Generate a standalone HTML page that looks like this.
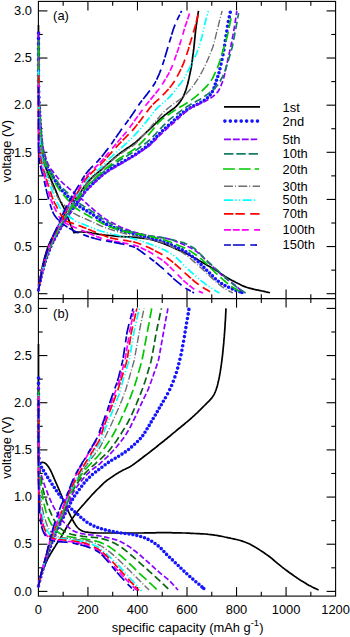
<!DOCTYPE html>
<html><head><meta charset="utf-8"><title>chart</title>
<style>html,body{margin:0;padding:0;background:#fff;overflow:hidden}body{width:350px;height:637px}</style></head>
<body>
<svg width="350" height="637" viewBox="0 0 350 637" style="display:block">
<rect width="350" height="637" fill="#fff"/>
<g stroke="#000" stroke-width="1.1" fill="none" shape-rendering="auto">
<rect x="38.4" y="1.4" width="297.20000000000005" height="594.7"/>
<line x1="38.4" y1="298.6" x2="335.6" y2="298.6"/>
<line x1="63.17" y1="1.4" x2="63.17" y2="5.699999999999999"/>
<line x1="63.17" y1="294.3" x2="63.17" y2="302.90000000000003"/>
<line x1="63.17" y1="596.1" x2="63.17" y2="591.8000000000001"/>
<line x1="87.93" y1="1.4" x2="87.93" y2="10.4"/>
<line x1="87.93" y1="289.6" x2="87.93" y2="307.6"/>
<line x1="87.93" y1="596.1" x2="87.93" y2="587.1"/>
<line x1="112.70" y1="1.4" x2="112.70" y2="5.699999999999999"/>
<line x1="112.70" y1="294.3" x2="112.70" y2="302.90000000000003"/>
<line x1="112.70" y1="596.1" x2="112.70" y2="591.8000000000001"/>
<line x1="137.47" y1="1.4" x2="137.47" y2="10.4"/>
<line x1="137.47" y1="289.6" x2="137.47" y2="307.6"/>
<line x1="137.47" y1="596.1" x2="137.47" y2="587.1"/>
<line x1="162.23" y1="1.4" x2="162.23" y2="5.699999999999999"/>
<line x1="162.23" y1="294.3" x2="162.23" y2="302.90000000000003"/>
<line x1="162.23" y1="596.1" x2="162.23" y2="591.8000000000001"/>
<line x1="187.00" y1="1.4" x2="187.00" y2="10.4"/>
<line x1="187.00" y1="289.6" x2="187.00" y2="307.6"/>
<line x1="187.00" y1="596.1" x2="187.00" y2="587.1"/>
<line x1="211.77" y1="1.4" x2="211.77" y2="5.699999999999999"/>
<line x1="211.77" y1="294.3" x2="211.77" y2="302.90000000000003"/>
<line x1="211.77" y1="596.1" x2="211.77" y2="591.8000000000001"/>
<line x1="236.53" y1="1.4" x2="236.53" y2="10.4"/>
<line x1="236.53" y1="289.6" x2="236.53" y2="307.6"/>
<line x1="236.53" y1="596.1" x2="236.53" y2="587.1"/>
<line x1="261.30" y1="1.4" x2="261.30" y2="5.699999999999999"/>
<line x1="261.30" y1="294.3" x2="261.30" y2="302.90000000000003"/>
<line x1="261.30" y1="596.1" x2="261.30" y2="591.8000000000001"/>
<line x1="286.07" y1="1.4" x2="286.07" y2="10.4"/>
<line x1="286.07" y1="289.6" x2="286.07" y2="307.6"/>
<line x1="286.07" y1="596.1" x2="286.07" y2="587.1"/>
<line x1="310.83" y1="1.4" x2="310.83" y2="5.699999999999999"/>
<line x1="310.83" y1="294.3" x2="310.83" y2="302.90000000000003"/>
<line x1="310.83" y1="596.1" x2="310.83" y2="591.8000000000001"/>
<line x1="38.4" y1="293.70" x2="47.4" y2="293.70"/>
<line x1="335.6" y1="293.70" x2="326.6" y2="293.70"/>
<line x1="38.4" y1="591.40" x2="47.4" y2="591.40"/>
<line x1="335.6" y1="591.40" x2="326.6" y2="591.40"/>
<line x1="38.4" y1="270.13" x2="42.699999999999996" y2="270.13"/>
<line x1="335.6" y1="270.13" x2="331.3" y2="270.13"/>
<line x1="38.4" y1="567.82" x2="42.699999999999996" y2="567.82"/>
<line x1="335.6" y1="567.82" x2="331.3" y2="567.82"/>
<line x1="38.4" y1="246.57" x2="47.4" y2="246.57"/>
<line x1="335.6" y1="246.57" x2="326.6" y2="246.57"/>
<line x1="38.4" y1="544.23" x2="47.4" y2="544.23"/>
<line x1="335.6" y1="544.23" x2="326.6" y2="544.23"/>
<line x1="38.4" y1="223.00" x2="42.699999999999996" y2="223.00"/>
<line x1="335.6" y1="223.00" x2="331.3" y2="223.00"/>
<line x1="38.4" y1="520.65" x2="42.699999999999996" y2="520.65"/>
<line x1="335.6" y1="520.65" x2="331.3" y2="520.65"/>
<line x1="38.4" y1="199.43" x2="47.4" y2="199.43"/>
<line x1="335.6" y1="199.43" x2="326.6" y2="199.43"/>
<line x1="38.4" y1="497.07" x2="47.4" y2="497.07"/>
<line x1="335.6" y1="497.07" x2="326.6" y2="497.07"/>
<line x1="38.4" y1="175.87" x2="42.699999999999996" y2="175.87"/>
<line x1="335.6" y1="175.87" x2="331.3" y2="175.87"/>
<line x1="38.4" y1="473.48" x2="42.699999999999996" y2="473.48"/>
<line x1="335.6" y1="473.48" x2="331.3" y2="473.48"/>
<line x1="38.4" y1="152.30" x2="47.4" y2="152.30"/>
<line x1="335.6" y1="152.30" x2="326.6" y2="152.30"/>
<line x1="38.4" y1="449.90" x2="47.4" y2="449.90"/>
<line x1="335.6" y1="449.90" x2="326.6" y2="449.90"/>
<line x1="38.4" y1="128.73" x2="42.699999999999996" y2="128.73"/>
<line x1="335.6" y1="128.73" x2="331.3" y2="128.73"/>
<line x1="38.4" y1="426.32" x2="42.699999999999996" y2="426.32"/>
<line x1="335.6" y1="426.32" x2="331.3" y2="426.32"/>
<line x1="38.4" y1="105.17" x2="47.4" y2="105.17"/>
<line x1="335.6" y1="105.17" x2="326.6" y2="105.17"/>
<line x1="38.4" y1="402.73" x2="47.4" y2="402.73"/>
<line x1="335.6" y1="402.73" x2="326.6" y2="402.73"/>
<line x1="38.4" y1="81.60" x2="42.699999999999996" y2="81.60"/>
<line x1="335.6" y1="81.60" x2="331.3" y2="81.60"/>
<line x1="38.4" y1="379.15" x2="42.699999999999996" y2="379.15"/>
<line x1="335.6" y1="379.15" x2="331.3" y2="379.15"/>
<line x1="38.4" y1="58.03" x2="47.4" y2="58.03"/>
<line x1="335.6" y1="58.03" x2="326.6" y2="58.03"/>
<line x1="38.4" y1="355.57" x2="47.4" y2="355.57"/>
<line x1="335.6" y1="355.57" x2="326.6" y2="355.57"/>
<line x1="38.4" y1="34.47" x2="42.699999999999996" y2="34.47"/>
<line x1="335.6" y1="34.47" x2="331.3" y2="34.47"/>
<line x1="38.4" y1="331.98" x2="42.699999999999996" y2="331.98"/>
<line x1="335.6" y1="331.98" x2="331.3" y2="331.98"/>
<line x1="38.4" y1="10.90" x2="47.4" y2="10.90"/>
<line x1="335.6" y1="10.90" x2="326.6" y2="10.90"/>
<line x1="38.4" y1="308.40" x2="47.4" y2="308.40"/>
<line x1="335.6" y1="308.40" x2="326.6" y2="308.40"/>
</g>
<path d="M38.5 25.0L38.5 27.0L38.5 29.0L38.5 31.0L38.5 33.0L38.5 35.0L38.5 37.0L38.6 39.0L38.6 41.0L38.6 43.0L38.6 45.0L38.6 47.0L38.6 49.0L38.6 51.0L38.6 53.0L38.6 55.0L38.6 57.0L38.6 59.0L38.6 61.0L38.7 63.0L38.7 65.0L38.7 67.0L38.7 69.0L38.7 71.0L38.7 73.0L38.7 75.1L38.7 77.1L38.7 79.1L38.7 81.1L38.7 83.1L38.7 85.1L38.7 87.1L38.8 89.1L38.8 91.1L38.8 93.1L38.8 95.1L38.8 97.1L38.8 99.1L38.8 101.1L38.9 103.1L38.9 105.1L39.0 107.1L39.0 109.1L39.1 111.1L39.1 113.1L39.2 115.1L39.2 117.1L39.2 119.1L39.3 121.1L39.3 123.1L39.4 125.1L39.4 127.1L39.5 129.1L39.6 131.1L39.8 133.1L40.0 135.1L40.1 137.1L40.3 139.1L40.5 141.1L40.7 143.1L40.9 145.1L41.1 147.0L41.3 149.0L41.6 151.0L42.0 153.0L42.4 154.9L42.9 156.9L43.3 158.8L43.8 160.8L44.3 162.7L44.8 164.6L45.4 166.5L46.1 168.4L46.9 170.2L47.7 172.1L48.5 173.9L49.3 175.7L50.1 177.6L50.9 179.4L51.7 181.2L52.5 183.1L53.3 184.9L54.2 186.7L54.9 188.6L55.7 190.4L56.5 192.3L57.2 194.1L58.0 196.0L58.7 197.8L59.6 199.6L60.4 201.4L61.4 203.2L62.3 205.0L63.3 206.7L64.1 208.5L64.9 210.4L65.7 212.2L66.5 214.1L67.2 215.9L68.0 217.8L68.7 219.6L69.4 221.5L70.1 223.4L70.8 225.3L71.6 227.1L72.4 229.0L73.2 230.8L74.0 232.6L76.0 232.4L78.0 232.2L80.0 232.0L82.0 232.0L84.0 232.1L86.0 232.2L88.0 232.4L90.0 232.6L92.0 233.0L93.9 233.3L95.9 233.7L97.9 234.1L99.8 234.5L101.8 234.7L103.8 235.0L105.8 235.2L107.8 235.3L109.8 235.5L111.8 235.7L113.8 235.9L115.8 236.1L117.8 236.3L119.8 236.4L121.8 236.6L123.8 236.7L125.9 236.8L127.9 236.9L129.9 237.0L131.9 237.1L133.9 237.3L135.9 237.4L137.9 237.6L139.9 237.9L141.9 238.1L143.9 238.3L145.9 238.5L147.8 238.8L149.8 239.2L151.8 239.7L153.7 240.2L155.6 240.9L157.5 241.5L159.4 242.1L161.3 242.8L163.2 243.4L165.1 244.1L166.9 244.9L168.8 245.7L170.6 246.5L172.4 247.3L174.3 248.2L176.1 249.0L177.9 249.8L179.8 250.6L181.6 251.5L183.4 252.3L185.2 253.2L187.1 254.0L188.9 254.9L190.6 255.8L192.4 256.7L194.2 257.7L196.0 258.6L197.7 259.6L199.4 260.7L201.2 261.7L202.9 262.7L204.6 263.7L206.4 264.7L208.1 265.7L209.9 266.7L211.6 267.7L213.4 268.7L215.1 269.7L216.8 270.8L218.4 271.9L220.1 273.1L221.7 274.2L223.4 275.3L225.1 276.4L226.8 277.5L228.6 278.5L230.3 279.4L232.1 280.4L233.8 281.3L235.6 282.3L237.4 283.2L239.2 284.1L241.0 285.0L242.8 285.9L244.7 286.6L246.5 287.3L248.5 287.9L250.4 288.4L252.3 288.9L254.3 289.4L256.3 289.8L258.2 290.2L260.2 290.6L262.2 291.0L264.1 291.4L266.1 291.9L268.0 292.3L270.0 292.8" fill="none" stroke="#000000" stroke-width="1.7" stroke-linejoin="round"/>
<path d="M38.5 290.0L38.8 288.0L39.1 286.0L39.4 284.1L39.7 282.1L40.0 280.1L40.3 278.1L40.6 276.1L41.0 274.2L41.3 272.2L41.7 270.2L42.1 268.2L42.5 266.3L42.9 264.3L43.4 262.4L43.8 260.4L44.3 258.5L44.9 256.6L45.5 254.6L46.0 252.7L46.6 250.8L47.3 248.9L48.0 247.0L48.7 245.2L49.5 243.3L50.4 241.5L51.2 239.7L52.1 237.9L53.0 236.1L53.9 234.3L54.8 232.5L55.8 230.8L56.7 229.0L57.6 227.2L58.5 225.4L59.5 223.7L60.4 221.9L61.4 220.2L62.4 218.4L63.5 216.7L64.5 215.0L65.6 213.3L66.7 211.6L67.8 210.0L68.9 208.3L70.0 206.6L71.1 204.9L72.2 203.3L73.4 201.6L74.6 200.0L75.8 198.4L77.0 196.8L78.2 195.3L79.5 193.7L80.6 192.0L81.8 190.4L82.9 188.7L84.0 187.1L85.2 185.5L86.4 183.9L87.7 182.3L89.0 180.8L90.4 179.4L91.7 177.9L93.2 176.5L94.7 175.2L96.3 174.0L97.8 172.7L99.4 171.4L100.9 170.1L102.4 168.8L103.8 167.4L105.3 166.0L106.7 164.6L108.2 163.3L109.7 161.9L111.2 160.6L112.7 159.3L114.2 157.9L115.7 156.7L117.2 155.4L118.8 154.1L120.4 152.9L122.0 151.7L123.7 150.6L125.3 149.5L127.0 148.3L128.7 147.2L130.3 146.1L132.0 145.0L133.6 143.8L135.2 142.6L136.7 141.3L138.2 140.0L139.7 138.6L141.1 137.2L142.6 135.9L144.1 134.5L145.5 133.1L147.0 131.7L148.4 130.4L149.9 129.0L151.3 127.6L152.8 126.2L154.2 124.8L155.6 123.4L157.1 122.0L158.5 120.6L160.0 119.2L161.5 117.9L163.0 116.6L164.5 115.3L166.1 114.1L167.7 112.8L169.3 111.7L170.9 110.5L172.6 109.3L174.2 108.1L175.7 106.8L177.1 105.4L178.4 103.9L179.6 102.4L180.8 100.8L181.9 99.1L182.9 97.4L183.7 95.6L184.5 93.7L185.2 91.9L185.9 90.0L186.5 88.1L187.0 86.1L187.6 84.2L188.1 82.3L188.5 80.3L189.0 78.4L189.4 76.4L189.8 74.4L190.2 72.5L190.6 70.5L191.0 68.5L191.4 66.6L191.7 64.6L192.0 62.6L192.2 60.6L192.5 58.6L192.7 56.6L193.0 54.7L193.3 52.7L193.5 50.7L193.8 48.7L194.0 46.7L194.2 44.7L194.4 42.7L194.6 40.7L194.8 38.7L195.0 36.7L195.2 34.7L195.4 32.7L195.6 30.7L195.9 28.7L196.1 26.8L196.4 24.8L196.7 22.8L197.0 20.8L197.3 18.8L197.6 16.8L197.9 14.9L198.2 12.9L198.5 10.9" fill="none" stroke="#000000" stroke-width="1.7" stroke-linejoin="round"/>
<path d="M38.5 33.0h0M38.5 38.4h0M38.5 43.7h0M38.5 49.1h0M38.5 54.4h0M38.5 59.8h0M38.5 65.1h0M38.5 70.5h0M38.5 75.8h0M38.5 81.1h0M38.6 86.5h0M38.7 91.8h0M38.9 97.2h0M39.1 102.5h0M39.4 107.9h0M39.6 111.9h0M39.8 115.9h0M40.0 119.9h0M40.2 123.9h0M40.4 127.9h0M40.7 131.8h0M41.0 135.8h0M41.4 139.8h0M41.7 143.8h0M42.2 147.8h0M42.8 151.7h0M43.8 155.6h0M44.8 159.5h0M45.9 163.3h0M47.4 167.0h0M49.2 170.6h0M51.3 174.0h0M53.3 177.4h0M55.4 180.9h0M57.5 184.3h0M59.7 187.6h0M62.2 190.7h0M65.0 193.6h0M67.8 196.4h0M70.7 199.2h0M73.6 202.0h0M76.7 204.5h0M79.9 206.8h0M83.3 208.9h0M86.8 210.9h0M90.2 213.0h0M93.6 215.1h0M96.8 217.5h0M100.0 219.9h0M103.2 222.3h0M106.6 224.4h0M110.3 226.1h0M114.0 227.6h0M117.7 229.0h0M121.5 230.3h0M125.3 231.4h0M129.2 232.4h0M133.1 233.5h0M136.9 234.5h0M140.8 235.5h0M144.6 236.6h0M148.5 237.6h0M152.4 238.6h0M156.2 239.7h0M160.1 240.7h0M163.9 241.8h0M167.7 243.3h0M171.3 244.9h0M175.0 246.5h0M178.6 248.1h0M182.3 249.8h0M185.8 251.8h0M189.0 254.1h0M192.2 256.5h0M195.3 259.0h0M198.2 261.8h0M201.1 264.6h0M203.9 267.4h0M206.7 270.2h0M209.6 273.1h0M212.4 275.9h0M215.3 278.7h0M218.3 281.3h0M221.6 283.6h0M225.0 285.6h0M228.6 287.3h0M232.3 288.9h0M236.0 290.4h0M239.8 291.7h0M242.0 292.4h0" fill="none" stroke="#1414ff" stroke-width="3.6" stroke-linecap="round"/>
<path d="M38.5 290.0h0M39.5 284.7h0M40.3 280.8h0M41.1 276.9h0M42.0 273.0h0M43.1 269.2h0M44.2 265.3h0M45.3 261.5h0M46.6 257.7h0M47.9 253.9h0M49.3 250.2h0M50.8 246.5h0M52.5 242.8h0M54.4 239.3h0M56.2 235.7h0M58.1 232.2h0M60.1 228.7h0M62.0 225.2h0M64.0 221.8h0M66.1 218.4h0M68.3 215.0h0M70.5 211.7h0M72.8 208.4h0M75.2 205.2h0M77.5 202.0h0M80.0 198.8h0M82.3 195.5h0M84.6 192.3h0M87.2 189.2h0M90.0 186.3h0M92.8 183.6h0M95.8 180.8h0M98.7 178.1h0M101.7 175.5h0M104.8 173.0h0M108.0 170.6h0M111.4 168.4h0M114.8 166.4h0M118.3 164.4h0M121.8 162.5h0M125.3 160.5h0M128.8 158.5h0M132.2 156.5h0M135.6 154.4h0M138.9 152.1h0M142.1 149.8h0M145.4 147.4h0M148.5 144.9h0M151.5 142.2h0M154.2 139.3h0M156.9 136.4h0M159.7 133.5h0M162.6 130.7h0M165.5 128.0h0M168.5 125.4h0M171.5 122.7h0M174.4 120.0h0M177.4 117.3h0M180.5 114.8h0M183.6 112.3h0M186.8 109.9h0M190.2 107.7h0M193.7 105.9h0M197.3 104.2h0M200.9 102.3h0M204.3 100.2h0M207.5 97.8h0M210.2 94.9h0M212.4 91.6h0M214.1 87.9h0M215.3 84.1h0M216.5 80.3h0M217.8 76.5h0M219.0 72.7h0M220.0 68.8h0M221.0 64.1h0M222.0 59.5h0M223.0 54.8h0M223.9 50.0h0M224.6 45.3h0M225.3 40.6h0M226.0 35.8h0M226.8 31.1h0M227.5 26.3h0M228.3 21.6h0M229.3 16.9h0M230.3 12.2h0" fill="none" stroke="#1414ff" stroke-width="3.6" stroke-linecap="round"/>
<path d="M38.5 32.5L38.5 34.5L38.5 36.5L38.5 38.5L38.5 40.5L38.5 42.5L38.5 44.5L38.5 46.5L38.5 48.5L38.5 50.5L38.5 52.5L38.5 54.5L38.5 56.5L38.5 58.5L38.5 60.5L38.5 62.5L38.5 64.5L38.5 66.5L38.5 68.5L38.5 70.5L38.5 72.5L38.5 74.5L38.5 76.5L38.5 78.5L38.5 80.5L38.6 82.5L38.6 84.5L38.7 86.5L38.8 88.5L38.8 90.5L38.9 92.5L39.0 94.5L39.0 96.5L39.1 98.5L39.2 100.5L39.2 102.5L39.3 104.5L39.4 106.5L39.5 108.5L39.7 110.5L39.8 112.5L39.9 114.5L40.1 116.5L40.2 118.5L40.4 120.5L40.5 122.5L40.6 124.5L40.8 126.5L40.9 128.5L41.1 130.5L41.3 132.5L41.5 134.5L41.7 136.4L42.0 138.4L42.2 140.4L42.4 142.4L42.7 144.4L42.9 146.4L43.2 148.3L43.6 150.3L44.1 152.2L44.7 154.1L45.3 156.1L45.9 158.0L46.5 159.9L47.2 161.7L47.8 163.6L48.7 165.4L49.6 167.1L50.7 168.8L51.9 170.4L53.2 171.9L54.4 173.5L55.6 175.1L56.9 176.7L58.1 178.2L59.4 179.7L60.8 181.2L62.2 182.5L63.7 183.9L65.2 185.2L66.8 186.5L68.3 187.8L69.8 189.1L71.3 190.4L72.9 191.7L74.4 193.0L75.9 194.2L77.5 195.5L79.0 196.7L80.6 198.0L82.1 199.3L83.6 200.7L85.0 202.0L86.5 203.4L88.0 204.8L89.5 206.1L91.0 207.4L92.5 208.7L94.0 210.0L95.6 211.3L97.1 212.6L98.6 213.8L100.2 215.1L101.7 216.4L103.3 217.6L105.0 218.7L106.7 219.7L108.4 220.7L110.2 221.6L111.9 222.5L113.7 223.5L115.5 224.4L117.2 225.4L119.0 226.3L120.8 227.2L122.6 227.9L124.5 228.6L126.4 229.3L128.3 230.0L130.1 230.7L132.0 231.4L133.9 232.0L135.8 232.6L137.8 233.1L139.7 233.6L141.7 234.1L143.6 234.5L145.5 235.0L147.5 235.4L149.5 235.8L151.4 236.2L153.4 236.5L155.4 236.8L157.4 237.1L159.3 237.4L161.3 237.7L163.3 238.0L165.3 238.3L167.2 238.7L169.2 239.1L171.1 239.6L173.0 240.2L174.8 240.9L176.7 241.7L178.6 242.4L180.4 243.2L182.3 243.9L184.1 244.7L185.9 245.5L187.7 246.4L189.5 247.3L191.3 248.2L193.1 249.2L194.7 250.2L196.3 251.4L197.9 252.6L199.4 254.0L200.9 255.3L202.4 256.6L203.8 258.0L205.3 259.4L206.7 260.7L208.1 262.2L209.6 263.6L211.0 265.0L212.4 266.4L213.8 267.8L215.3 269.2L216.7 270.5L218.2 271.9L219.7 273.2L221.2 274.6L222.7 275.9L224.2 277.2L225.8 278.4L227.4 279.6L229.0 280.8L230.6 281.9L232.3 283.1L233.9 284.3L235.4 285.5L236.9 286.8L238.4 288.2L239.9 289.5L241.4 290.9L242.9 292.2L243.6 292.9" fill="none" stroke="#8a00ff" stroke-width="1.7" stroke-dasharray="5.60 2.50" stroke-linejoin="round"/>
<path d="M38.5 290.0L38.9 288.0L39.3 286.1L39.7 284.1L40.0 282.1L40.4 280.2L40.8 278.2L41.3 276.3L41.8 274.3L42.3 272.4L42.9 270.5L43.4 268.6L44.0 266.6L44.5 264.7L45.1 262.8L45.7 260.9L46.3 259.0L47.0 257.1L47.7 255.2L48.4 253.4L49.1 251.5L49.8 249.6L50.5 247.8L51.4 246.0L52.2 244.2L53.2 242.4L54.1 240.6L55.0 238.8L56.0 237.1L56.9 235.3L57.9 233.6L58.9 231.8L59.9 230.1L60.8 228.3L61.9 226.6L62.9 224.9L63.9 223.2L65.0 221.5L66.0 219.8L67.1 218.1L68.2 216.4L69.3 214.8L70.4 213.1L71.6 211.5L72.7 209.8L73.9 208.2L75.0 206.6L76.2 205.0L77.4 203.3L78.6 201.7L79.8 200.2L81.0 198.5L82.1 196.9L83.2 195.3L84.3 193.6L85.4 192.0L86.7 190.5L88.0 189.0L89.5 187.7L90.9 186.3L92.4 184.9L93.8 183.5L95.2 182.1L96.7 180.7L98.1 179.3L99.6 178.0L101.1 176.7L102.6 175.4L104.2 174.2L105.8 173.0L107.5 171.9L109.1 170.7L110.8 169.7L112.5 168.7L114.3 167.7L116.0 166.7L117.8 165.7L119.5 164.7L121.2 163.7L122.9 162.7L124.7 161.7L126.4 160.7L128.1 159.6L129.8 158.6L131.5 157.6L133.2 156.5L134.9 155.5L136.6 154.4L138.3 153.3L140.0 152.2L141.6 151.1L143.3 150.0L144.9 148.9L146.6 147.7L148.2 146.6L149.8 145.3L151.3 144.0L152.7 142.6L154.1 141.2L155.5 139.8L156.9 138.3L158.2 136.9L159.7 135.5L161.1 134.1L162.6 132.7L164.0 131.4L165.5 130.0L167.0 128.7L168.5 127.3L170.0 126.0L171.5 124.7L173.0 123.3L174.5 122.0L175.9 120.7L177.4 119.3L178.9 118.0L180.4 116.6L181.9 115.3L183.4 114.0L184.9 112.6L186.4 111.3L187.9 110.0L189.5 108.8L191.1 107.8L192.9 106.8L194.7 106.0L196.5 105.2L198.4 104.4L200.2 103.6L202.0 102.8L203.8 101.9L205.6 101.0L207.4 100.1L209.1 99.1L210.8 98.0L212.4 96.9L213.9 95.6L215.4 94.3L216.8 92.9L218.1 91.4L219.1 89.8L220.0 88.0L220.8 86.2L221.5 84.3L222.2 82.5L222.9 80.6L223.5 78.7L224.0 76.7L224.5 74.8L224.9 72.9L225.4 70.9L225.8 68.9L226.2 67.0L226.6 65.0L227.1 63.1L227.5 61.1L227.9 59.2L228.4 57.2L228.8 55.3L229.2 53.3L229.7 51.4L230.1 49.4L230.5 47.5L231.0 45.5L231.4 43.5L231.8 41.6L232.1 39.6L232.5 37.6L232.9 35.7L233.2 33.7L233.6 31.7L233.9 29.8L234.3 27.8L234.6 25.8L234.9 23.9L235.2 21.9L235.5 19.9L235.8 17.9L236.1 15.9L236.4 14.0L236.7 12.0L236.9 11.0" fill="none" stroke="#8a00ff" stroke-width="1.7" stroke-dasharray="5.60 2.50" stroke-linejoin="round"/>
<path d="M38.5 40.0L38.5 42.0L38.5 44.0L38.5 46.0L38.5 48.0L38.5 50.0L38.5 52.0L38.5 54.0L38.5 56.0L38.5 58.0L38.5 60.0L38.5 62.0L38.5 64.0L38.5 66.0L38.5 68.0L38.5 70.0L38.5 72.0L38.5 74.0L38.5 76.0L38.5 78.0L38.5 80.0L38.5 82.0L38.5 84.0L38.6 86.0L38.6 88.0L38.7 90.0L38.7 92.0L38.8 94.0L38.9 96.0L39.0 98.0L39.0 100.0L39.1 102.0L39.2 104.0L39.3 106.0L39.4 108.0L39.5 110.0L39.6 112.0L39.7 114.0L39.9 116.0L40.0 118.0L40.1 120.0L40.2 122.0L40.3 124.0L40.5 126.0L40.6 128.0L40.8 130.0L40.9 132.0L41.1 134.0L41.3 136.0L41.5 137.9L41.7 139.9L42.0 141.9L42.2 143.9L42.4 145.9L42.6 147.9L43.0 149.9L43.3 151.8L43.8 153.8L44.3 155.7L44.8 157.6L45.3 159.6L45.8 161.5L46.4 163.4L47.1 165.2L47.9 167.0L48.9 168.8L50.0 170.5L51.1 172.1L52.2 173.8L53.3 175.5L54.4 177.1L55.5 178.8L56.6 180.5L57.7 182.1L58.8 183.8L60.1 185.3L61.4 186.8L62.7 188.3L64.2 189.7L65.6 191.1L67.1 192.4L68.5 193.8L70.0 195.2L71.4 196.6L72.9 197.9L74.4 199.3L75.9 200.6L77.4 201.8L79.0 203.1L80.6 204.2L82.3 205.3L84.0 206.4L85.7 207.4L87.5 208.4L89.2 209.4L90.8 210.5L92.5 211.6L94.1 212.8L95.7 214.0L97.4 215.1L99.0 216.3L100.6 217.4L102.3 218.5L104.0 219.6L105.6 220.7L107.3 221.8L109.0 222.8L110.8 223.8L112.5 224.7L114.3 225.7L116.1 226.5L117.9 227.4L119.8 228.2L121.6 228.9L123.5 229.5L125.4 230.1L127.3 230.7L129.2 231.3L131.2 231.8L133.1 232.4L135.0 232.9L137.0 233.4L138.9 233.8L140.9 234.2L142.8 234.6L144.8 235.0L146.8 235.3L148.7 235.7L150.7 236.0L152.7 236.3L154.7 236.6L156.6 236.9L158.6 237.2L160.6 237.4L162.6 237.7L164.6 238.1L166.5 238.4L168.5 238.9L170.4 239.4L172.4 239.8L174.3 240.3L176.2 240.8L178.2 241.3L180.1 241.8L182.0 242.3L183.9 242.9L185.8 243.7L187.6 244.5L189.4 245.4L191.1 246.4L192.8 247.4L194.4 248.5L196.0 249.8L197.4 251.1L198.8 252.5L200.2 254.0L201.6 255.4L203.0 256.9L204.4 258.3L205.8 259.7L207.3 261.0L208.8 262.4L210.3 263.7L211.7 265.1L213.2 266.4L214.7 267.7L216.2 269.1L217.7 270.4L219.2 271.8L220.7 273.1L222.1 274.5L223.6 275.8L225.1 277.1L226.6 278.5L228.1 279.8L229.6 281.2L231.1 282.5L232.6 283.8L234.1 285.0L235.7 286.3L237.3 287.5L238.9 288.6L240.6 289.8L242.3 290.8L244.0 291.9L245.7 292.9" fill="none" stroke="#147d64" stroke-width="1.7" stroke-dasharray="7.50 3.50" stroke-linejoin="round"/>
<path d="M38.5 290.0L38.9 288.0L39.2 286.1L39.6 284.1L40.0 282.1L40.4 280.2L40.8 278.2L41.2 276.2L41.6 274.3L42.1 272.3L42.6 270.4L43.2 268.5L43.7 266.5L44.2 264.6L44.8 262.7L45.4 260.8L46.0 258.9L46.6 257.0L47.3 255.1L47.9 253.2L48.6 251.3L49.3 249.4L50.0 247.5L50.8 245.7L51.7 243.9L52.5 242.1L53.4 240.3L54.3 238.5L55.2 236.7L56.1 234.9L57.0 233.1L58.0 231.4L58.9 229.6L59.8 227.8L60.8 226.0L61.7 224.3L62.7 222.5L63.7 220.8L64.8 219.1L65.8 217.4L66.9 215.7L68.0 214.0L69.1 212.3L70.2 210.7L71.3 209.0L72.4 207.3L73.6 205.7L74.7 204.1L75.9 202.4L77.1 200.8L78.3 199.2L79.5 197.6L80.7 196.0L81.8 194.4L82.9 192.7L83.9 191.0L85.0 189.3L86.2 187.7L87.5 186.3L88.9 184.8L90.3 183.5L91.8 182.1L93.3 180.7L94.7 179.4L96.2 178.1L97.7 176.7L99.3 175.4L100.8 174.1L102.3 172.8L103.9 171.5L105.4 170.3L107.0 169.0L108.5 167.8L110.1 166.6L111.8 165.4L113.4 164.3L115.1 163.2L116.8 162.1L118.5 161.0L120.2 159.9L121.9 158.9L123.6 157.9L125.3 156.8L127.0 155.8L128.7 154.8L130.5 153.7L132.2 152.7L133.9 151.6L135.5 150.5L137.2 149.4L138.8 148.2L140.4 147.0L142.0 145.8L143.7 144.7L145.3 143.5L146.9 142.3L148.4 141.0L149.9 139.7L151.4 138.3L152.8 136.9L154.1 135.4L155.5 134.0L156.8 132.5L158.2 131.0L159.6 129.5L161.0 128.1L162.4 126.7L163.8 125.2L165.2 123.8L166.6 122.4L168.0 121.0L169.5 119.7L171.0 118.4L172.6 117.1L174.2 115.9L175.8 114.7L177.4 113.5L179.0 112.3L180.6 111.1L182.2 109.9L183.9 108.8L185.5 107.6L187.2 106.5L188.9 105.4L190.6 104.4L192.3 103.4L194.1 102.5L195.9 101.6L197.6 100.6L199.4 99.7L201.1 98.6L202.8 97.5L204.4 96.4L206.1 95.2L207.7 94.1L209.3 92.9L210.8 91.6L212.4 90.3L213.9 89.0L215.3 87.7L216.7 86.2L217.9 84.7L219.0 83.0L220.0 81.3L221.0 79.5L222.0 77.8L222.9 76.0L223.7 74.2L224.4 72.3L225.1 70.5L225.7 68.6L226.4 66.7L227.0 64.8L227.6 62.8L228.2 60.9L228.8 59.0L229.4 57.1L229.9 55.2L230.5 53.3L231.1 51.3L231.6 49.4L232.1 47.5L232.5 45.5L232.9 43.5L233.3 41.6L233.7 39.6L234.1 37.6L234.5 35.7L234.8 33.7L235.2 31.7L235.6 29.8L236.0 27.8L236.3 25.8L236.7 23.9L237.0 21.9L237.4 19.9L237.7 17.9L238.1 16.0L238.4 14.0L238.6 13.0" fill="none" stroke="#147d64" stroke-width="1.7" stroke-dasharray="7.50 3.50" stroke-linejoin="round"/>
<path d="M38.5 46.0L38.5 48.0L38.5 50.0L38.5 52.0L38.5 54.0L38.5 56.0L38.5 58.0L38.5 60.0L38.5 62.0L38.5 64.0L38.5 66.0L38.5 68.0L38.5 70.0L38.5 72.0L38.5 74.0L38.5 76.0L38.5 78.0L38.5 80.0L38.5 82.0L38.5 84.0L38.5 86.0L38.5 88.0L38.5 90.0L38.6 92.0L38.7 94.0L38.7 96.0L38.8 98.0L38.9 100.0L39.0 102.0L39.1 104.0L39.2 106.0L39.2 108.0L39.3 110.0L39.4 112.0L39.5 114.0L39.6 116.0L39.7 118.0L39.8 120.0L39.9 122.0L40.0 124.0L40.1 126.0L40.2 128.0L40.3 130.0L40.5 132.0L40.6 134.0L40.7 136.0L40.9 138.0L41.0 139.9L41.2 141.9L41.3 143.9L41.5 145.9L41.7 147.9L42.0 149.9L42.3 151.9L42.7 153.8L43.1 155.8L43.6 157.7L44.0 159.7L44.5 161.6L45.0 163.5L45.6 165.4L46.4 167.3L47.2 169.1L48.1 170.8L49.1 172.6L50.0 174.4L51.0 176.1L52.0 177.8L53.0 179.5L54.1 181.3L55.1 183.0L56.2 184.7L57.2 186.4L58.3 188.1L59.4 189.7L60.5 191.3L61.8 192.9L63.1 194.4L64.4 195.9L65.7 197.4L67.0 198.9L68.3 200.4L69.7 201.9L71.0 203.4L72.3 204.9L73.7 206.3L75.2 207.7L76.8 208.8L78.4 209.9L80.1 210.9L81.9 211.9L83.6 212.9L85.3 213.9L87.1 214.9L88.8 215.9L90.6 216.9L92.3 217.9L94.0 218.9L95.8 219.8L97.5 220.8L99.3 221.8L101.0 222.8L102.8 223.7L104.6 224.6L106.4 225.4L108.2 226.2L110.1 226.9L112.0 227.6L113.9 228.3L115.8 228.9L117.6 229.6L119.5 230.2L121.5 230.7L123.4 231.2L125.4 231.6L127.3 232.0L129.3 232.4L131.3 232.8L133.2 233.1L135.2 233.5L137.1 233.9L139.1 234.3L141.1 234.7L143.0 235.1L145.0 235.5L146.9 235.9L148.9 236.3L150.9 236.7L152.8 237.2L154.8 237.6L156.7 238.1L158.7 238.5L160.6 239.0L162.5 239.5L164.5 240.0L166.3 240.6L168.2 241.3L170.1 242.0L171.9 242.8L173.8 243.5L175.7 244.3L177.5 245.0L179.4 245.8L181.2 246.5L183.1 247.3L184.9 248.1L186.6 249.1L188.4 250.0L190.1 251.1L191.8 252.1L193.5 253.2L195.1 254.3L196.8 255.5L198.3 256.7L199.9 257.9L201.5 259.2L203.0 260.5L204.5 261.8L206.0 263.1L207.4 264.5L208.8 265.9L210.2 267.4L211.6 268.8L213.0 270.2L214.4 271.6L215.8 273.1L217.3 274.4L218.8 275.8L220.2 277.1L221.7 278.4L223.3 279.8L224.8 281.0L226.3 282.3L227.9 283.6L229.5 284.8L231.1 286.0L232.7 287.1L234.4 288.2L236.1 289.2L237.8 290.3L239.5 291.4L241.2 292.4L242.0 293.0" fill="none" stroke="#00c800" stroke-width="1.7" stroke-dasharray="10.00 4.00" stroke-linejoin="round"/>
<path d="M38.5 290.0L38.9 288.0L39.2 286.1L39.6 284.1L40.0 282.1L40.3 280.2L40.7 278.2L41.1 276.2L41.5 274.3L42.0 272.3L42.5 270.4L43.0 268.4L43.5 266.5L44.1 264.6L44.6 262.6L45.2 260.7L45.8 258.8L46.4 256.9L47.0 255.0L47.7 253.1L48.3 251.2L49.0 249.3L49.7 247.5L50.5 245.6L51.3 243.8L52.2 242.0L53.0 240.2L53.9 238.4L54.8 236.6L55.7 234.8L56.6 233.0L57.5 231.2L58.4 229.4L59.4 227.7L60.3 225.9L61.2 224.1L62.1 222.3L63.1 220.6L64.1 218.8L65.1 217.1L66.2 215.4L67.2 213.7L68.3 212.0L69.4 210.3L70.5 208.7L71.5 207.0L72.6 205.3L73.8 203.6L74.9 202.0L76.1 200.4L77.3 198.8L78.5 197.2L79.8 195.6L81.0 194.0L82.1 192.4L83.3 190.8L84.5 189.2L85.7 187.6L87.0 186.1L88.4 184.6L89.8 183.2L91.2 181.8L92.6 180.4L94.1 179.0L95.6 177.6L97.1 176.3L98.6 175.0L100.1 173.7L101.6 172.3L103.1 171.0L104.6 169.7L106.1 168.4L107.6 167.1L109.2 165.8L110.7 164.6L112.3 163.4L114.0 162.2L115.6 161.1L117.3 159.9L118.9 158.8L120.6 157.7L122.3 156.7L124.0 155.6L125.7 154.6L127.4 153.5L129.1 152.5L130.9 151.5L132.5 150.4L134.2 149.3L135.7 148.0L137.2 146.7L138.7 145.3L140.1 143.9L141.5 142.5L142.9 141.1L144.3 139.6L145.6 138.1L147.0 136.6L148.2 135.1L149.5 133.6L150.8 132.0L152.1 130.5L153.4 128.9L154.6 127.4L155.9 125.8L157.1 124.2L158.4 122.7L159.8 121.3L161.2 119.9L162.7 118.7L164.4 117.5L166.0 116.3L167.6 115.2L169.3 114.0L170.9 112.9L172.6 111.7L174.2 110.6L175.9 109.5L177.6 108.4L179.3 107.4L181.0 106.4L182.8 105.4L184.5 104.4L186.2 103.4L187.9 102.3L189.6 101.2L191.2 100.1L192.8 98.9L194.4 97.7L196.0 96.4L197.5 95.2L199.0 93.8L200.5 92.5L201.9 91.1L203.3 89.7L204.8 88.2L206.1 86.8L207.5 85.3L208.8 83.8L210.0 82.2L211.1 80.6L212.2 78.9L213.1 77.1L213.9 75.3L214.8 73.5L215.6 71.7L216.5 69.8L217.3 68.0L218.0 66.2L218.7 64.3L219.3 62.4L220.0 60.5L220.5 58.6L221.1 56.6L221.7 54.7L222.3 52.8L222.9 50.9L223.5 49.0L224.1 47.1L224.7 45.2L225.3 43.2L225.8 41.3L226.4 39.4L226.9 37.5L227.4 35.5L227.8 33.6L228.3 31.6L228.7 29.7L229.1 27.7L229.5 25.7L229.9 23.8L230.3 21.8L230.7 19.9L231.2 17.9L231.6 16.0L232.1 14.0" fill="none" stroke="#00c800" stroke-width="1.7" stroke-dasharray="10.00 4.00" stroke-linejoin="round"/>
<path d="M38.5 59.0L38.5 61.0L38.5 63.0L38.5 65.0L38.5 67.0L38.5 69.0L38.5 71.0L38.5 73.0L38.5 75.0L38.5 77.0L38.5 79.0L38.5 81.0L38.5 83.0L38.5 85.1L38.5 87.1L38.5 89.1L38.5 91.1L38.5 93.1L38.6 95.1L38.6 97.1L38.7 99.1L38.8 101.1L38.9 103.1L39.0 105.1L39.1 107.1L39.2 109.1L39.2 111.1L39.3 113.1L39.4 115.1L39.5 117.1L39.6 119.1L39.6 121.1L39.7 123.1L39.8 125.1L39.9 127.1L40.0 129.1L40.1 131.1L40.2 133.1L40.3 135.1L40.4 137.1L40.5 139.1L40.7 141.1L40.8 143.1L40.9 145.1L41.1 147.1L41.2 149.1L41.5 151.1L41.8 153.1L42.1 155.0L42.4 157.0L42.8 159.0L43.1 161.0L43.5 162.9L44.0 164.9L44.5 166.8L45.1 168.7L45.8 170.5L46.6 172.4L47.3 174.3L48.1 176.1L48.9 177.9L49.7 179.8L50.5 181.6L51.4 183.4L52.2 185.3L53.0 187.1L53.8 188.9L54.6 190.8L55.5 192.6L56.3 194.4L57.1 196.2L58.1 198.0L59.1 199.6L60.4 201.2L61.7 202.6L63.1 204.1L64.6 205.4L66.0 206.8L67.5 208.1L69.1 209.4L70.6 210.7L72.2 212.0L73.7 213.1L75.4 214.2L77.1 215.2L78.9 216.0L80.8 216.9L82.6 217.6L84.5 218.4L86.3 219.2L88.1 220.0L90.0 220.8L91.8 221.6L93.6 222.5L95.4 223.3L97.3 224.1L99.1 225.0L100.9 225.8L102.7 226.6L104.6 227.4L106.5 228.1L108.4 228.7L110.3 229.4L112.2 230.0L114.1 230.6L116.0 231.2L117.9 231.8L119.8 232.4L121.8 232.9L123.7 233.4L125.6 233.8L127.6 234.3L129.5 234.7L131.5 235.2L133.5 235.6L135.4 236.1L137.4 236.5L139.3 237.0L141.3 237.5L143.2 237.9L145.2 238.4L147.1 238.8L149.1 239.3L151.0 239.7L153.0 240.2L154.9 240.6L156.9 241.1L158.8 241.6L160.8 242.0L162.7 242.6L164.6 243.2L166.4 243.9L168.2 244.8L170.0 245.7L171.7 246.7L173.5 247.7L175.2 248.6L177.0 249.6L178.8 250.6L180.5 251.5L182.2 252.5L183.9 253.6L185.6 254.7L187.2 255.9L188.7 257.2L190.3 258.5L191.8 259.8L193.3 261.1L194.8 262.4L196.3 263.7L197.8 265.0L199.3 266.4L200.8 267.7L202.3 269.1L203.8 270.4L205.2 271.8L206.7 273.2L208.1 274.6L209.6 275.9L211.0 277.3L212.5 278.7L214.0 280.1L215.4 281.4L216.9 282.7L218.5 284.0L220.0 285.3L221.6 286.5L223.3 287.6L224.9 288.7L226.7 289.7L228.4 290.6L230.2 291.6L232.0 292.5L232.9 292.9" fill="none" stroke="#6e6e6e" stroke-width="1.4" stroke-dasharray="7.60 2.00 1.00 2.00" stroke-linejoin="round"/>
<path d="M38.5 290.0L38.9 288.0L39.2 286.1L39.6 284.1L39.9 282.1L40.3 280.1L40.7 278.2L41.1 276.2L41.5 274.3L41.9 272.3L42.4 270.4L42.9 268.4L43.4 266.5L43.9 264.5L44.4 262.6L45.0 260.7L45.6 258.8L46.2 256.9L46.8 254.9L47.4 253.0L48.0 251.1L48.7 249.3L49.4 247.4L50.1 245.5L50.9 243.7L51.8 241.9L52.6 240.0L53.5 238.2L54.3 236.4L55.2 234.7L56.2 232.9L57.1 231.1L58.0 229.3L58.9 227.5L59.7 225.7L60.6 223.9L61.5 222.1L62.4 220.3L63.4 218.6L64.4 216.9L65.4 215.2L66.5 213.4L67.6 211.7L68.6 210.0L69.6 208.3L70.7 206.6L71.7 204.9L72.8 203.2L73.9 201.6L75.1 199.9L76.2 198.3L77.4 196.7L78.6 195.0L79.7 193.4L80.9 191.8L82.0 190.1L83.1 188.4L84.3 186.8L85.5 185.2L86.8 183.7L88.1 182.2L89.5 180.8L91.0 179.4L92.4 178.1L93.9 176.7L95.4 175.4L97.0 174.1L98.5 172.8L100.0 171.5L101.5 170.2L102.9 168.8L104.4 167.4L105.8 166.0L107.3 164.6L108.7 163.3L110.2 161.9L111.8 160.6L113.3 159.4L114.9 158.1L116.4 156.9L118.0 155.6L119.6 154.4L121.3 153.3L122.9 152.2L124.6 151.1L126.3 150.0L128.0 148.9L129.7 147.9L131.4 146.8L133.0 145.6L134.6 144.4L136.1 143.1L137.5 141.7L138.8 140.3L140.2 138.8L141.5 137.3L142.9 135.8L144.2 134.3L145.6 132.9L146.9 131.4L148.3 129.9L149.6 128.4L150.9 126.9L152.2 125.3L153.5 123.8L154.8 122.3L156.1 120.7L157.3 119.2L158.6 117.7L159.9 116.1L161.3 114.6L162.6 113.2L164.0 111.7L165.5 110.4L167.0 109.1L168.5 107.8L170.1 106.6L171.7 105.3L173.3 104.1L174.9 103.0L176.6 101.8L178.2 100.7L179.8 99.5L181.4 98.2L182.9 96.9L184.4 95.6L185.8 94.2L187.2 92.8L188.6 91.3L189.9 89.8L191.2 88.3L192.4 86.7L193.6 85.1L194.8 83.5L195.9 81.8L197.1 80.2L198.1 78.5L199.2 76.8L200.2 75.1L201.1 73.3L202.1 71.5L203.0 69.8L203.9 68.0L204.8 66.2L205.6 64.4L206.5 62.5L207.3 60.7L208.1 58.9L208.9 57.0L209.7 55.2L210.4 53.3L211.2 51.5L211.9 49.6L212.6 47.7L213.2 45.8L213.8 43.9L214.3 42.0L214.8 40.0L215.3 38.1L215.7 36.2L216.2 34.2L216.7 32.3L217.2 30.3L217.7 28.4L218.2 26.4L218.6 24.5L219.1 22.5L219.6 20.6L220.1 18.7L220.6 16.7L221.1 14.8L221.6 12.8L222.1 10.9" fill="none" stroke="#6e6e6e" stroke-width="1.4" stroke-dasharray="7.60 2.00 1.00 2.00" stroke-linejoin="round"/>
<path d="M38.5 70.0L38.5 72.0L38.5 74.0L38.5 76.0L38.5 78.0L38.5 80.0L38.5 82.0L38.5 84.0L38.5 86.0L38.5 88.0L38.5 90.0L38.5 92.0L38.5 94.0L38.5 96.0L38.5 98.0L38.5 100.0L38.6 102.0L38.7 104.0L38.7 106.0L38.8 108.0L38.9 110.0L38.9 112.0L39.0 114.0L39.0 116.0L39.1 118.0L39.1 120.0L39.1 122.0L39.2 124.0L39.2 126.0L39.3 128.0L39.4 130.0L39.4 132.0L39.6 134.0L39.7 136.0L39.8 138.0L39.9 140.0L40.1 142.0L40.2 144.0L40.3 146.0L40.5 147.9L40.7 149.9L40.9 151.9L41.2 153.9L41.5 155.9L41.8 157.9L42.1 159.8L42.4 161.8L42.7 163.8L43.2 165.7L43.7 167.6L44.3 169.6L44.9 171.4L45.6 173.3L46.3 175.2L47.0 177.1L47.7 179.0L48.4 180.8L49.1 182.7L49.8 184.5L50.6 186.4L51.3 188.3L52.0 190.1L52.7 192.0L53.5 193.9L54.2 195.7L54.9 197.6L55.7 199.4L56.5 201.3L57.4 203.1L58.3 204.8L59.2 206.6L60.3 208.2L61.6 209.7L63.0 211.1L64.5 212.4L66.0 213.7L67.5 215.0L69.1 216.3L70.6 217.5L72.2 218.8L73.8 219.9L75.5 220.9L77.3 221.8L79.1 222.6L80.9 223.3L82.8 224.1L84.7 224.8L86.5 225.6L88.4 226.3L90.2 227.1L92.1 227.8L93.9 228.5L95.8 229.3L97.7 230.0L99.5 230.7L101.4 231.3L103.4 231.8L105.3 232.3L107.2 232.8L109.2 233.3L111.1 233.7L113.1 234.2L115.0 234.6L117.0 235.0L118.9 235.5L120.9 235.9L122.8 236.3L124.8 236.8L126.8 237.2L128.7 237.6L130.7 238.1L132.6 238.5L134.5 239.0L136.5 239.6L138.4 240.1L140.3 240.8L142.2 241.4L144.1 242.0L146.0 242.7L147.9 243.3L149.7 244.0L151.6 244.7L153.5 245.4L155.3 246.1L157.2 246.9L159.0 247.6L160.9 248.4L162.7 249.2L164.5 250.0L166.3 250.9L168.1 251.9L169.8 252.9L171.5 253.9L173.2 255.0L174.7 256.2L176.3 257.5L177.7 258.9L179.1 260.3L180.5 261.7L181.9 263.2L183.2 264.6L184.7 266.0L186.1 267.4L187.6 268.8L189.0 270.1L190.5 271.5L192.0 272.8L193.5 274.1L195.0 275.5L196.5 276.8L198.0 278.1L199.6 279.4L201.1 280.7L202.6 281.9L204.2 283.2L205.8 284.4L207.4 285.5L209.1 286.6L210.7 287.7L212.4 288.8L214.1 289.9L215.8 290.9L217.6 291.9L219.3 292.9" fill="none" stroke="#00ffff" stroke-width="1.7" stroke-dasharray="8.01 2.16 1.17 2.16 1.17 2.16" stroke-linejoin="round"/>
<path d="M38.5 290.0L38.9 288.0L39.2 286.1L39.6 284.1L39.9 282.1L40.3 280.1L40.6 278.2L41.0 276.2L41.4 274.2L41.8 272.3L42.3 270.3L42.8 268.4L43.3 266.4L43.8 264.5L44.3 262.6L44.8 260.6L45.4 258.7L46.0 256.8L46.6 254.9L47.2 253.0L47.8 251.1L48.4 249.2L49.1 247.3L49.9 245.4L50.7 243.6L51.5 241.7L52.3 239.9L53.1 238.1L54.0 236.3L54.9 234.5L55.8 232.7L56.7 230.9L57.6 229.1L58.5 227.3L59.3 225.5L60.2 223.7L61.1 221.9L62.0 220.1L62.9 218.3L63.8 216.6L64.8 214.8L65.8 213.1L66.8 211.3L67.8 209.6L68.8 207.9L69.8 206.1L70.8 204.4L71.9 202.7L72.9 201.0L74.1 199.3L75.2 197.7L76.3 196.0L77.5 194.4L78.6 192.7L79.7 191.1L80.8 189.3L81.8 187.6L82.8 185.9L83.8 184.2L84.9 182.5L86.2 181.0L87.5 179.5L89.0 178.2L90.4 176.8L91.9 175.5L93.4 174.1L94.9 172.8L96.4 171.5L97.9 170.2L99.4 168.8L100.9 167.4L102.3 166.0L103.7 164.6L105.1 163.2L106.5 161.7L107.9 160.3L109.3 158.8L110.7 157.4L112.2 156.1L113.7 154.7L115.1 153.4L116.6 152.0L118.1 150.7L119.6 149.3L121.1 148.0L122.6 146.7L124.1 145.3L125.6 144.0L127.1 142.6L128.5 141.3L130.0 139.9L131.4 138.5L132.8 137.0L134.2 135.6L135.6 134.1L136.9 132.7L138.3 131.2L139.7 129.7L141.0 128.2L142.2 126.7L143.5 125.1L144.8 123.6L146.0 122.0L147.3 120.4L148.5 118.9L149.7 117.3L151.0 115.7L152.2 114.1L153.4 112.5L154.6 110.9L156.0 109.4L157.3 108.0L158.8 106.6L160.3 105.3L161.8 104.0L163.3 102.7L164.9 101.4L166.4 100.1L167.9 98.7L169.3 97.4L170.6 95.9L171.9 94.4L173.2 92.8L174.4 91.2L175.6 89.6L176.8 88.0L178.1 86.4L179.3 84.9L180.6 83.3L181.8 81.7L183.0 80.1L184.1 78.4L185.1 76.7L186.0 75.0L186.9 73.2L187.8 71.4L188.7 69.6L189.6 67.8L190.5 66.0L191.4 64.2L192.3 62.4L193.2 60.6L194.1 58.8L194.9 57.0L195.8 55.2L196.6 53.3L197.3 51.5L198.0 49.6L198.7 47.7L199.3 45.8L199.9 43.9L200.5 42.0L201.1 40.1L201.6 38.1L202.1 36.2L202.5 34.2L202.9 32.3L203.3 30.3L203.8 28.4L204.2 26.4L204.7 24.5L205.2 22.5L205.7 20.6L206.2 18.6L206.7 16.7L207.3 14.8L207.8 12.8L208.3 10.9" fill="none" stroke="#00ffff" stroke-width="1.7" stroke-dasharray="8.01 2.16 1.17 2.16 1.17 2.16" stroke-linejoin="round"/>
<path d="M38.5 75.0L38.5 77.0L38.5 79.0L38.5 81.0L38.5 83.0L38.5 85.0L38.5 87.0L38.5 89.0L38.5 91.0L38.5 93.0L38.5 95.0L38.5 97.0L38.5 99.0L38.5 101.0L38.5 103.0L38.5 105.0L38.5 107.0L38.5 109.0L38.5 111.1L38.5 113.1L38.5 115.1L38.5 117.1L38.6 119.1L38.6 121.1L38.6 123.1L38.6 125.1L38.6 127.1L38.6 129.1L38.7 131.1L38.7 133.1L38.8 135.1L38.8 137.1L38.9 139.1L39.0 141.1L39.1 143.1L39.1 145.1L39.2 147.1L39.4 149.1L39.6 151.1L39.9 153.0L40.2 155.0L40.6 157.0L40.9 159.0L41.3 160.9L41.7 162.9L42.1 164.8L42.6 166.8L43.1 168.7L43.7 170.6L44.3 172.5L44.9 174.4L45.5 176.4L46.1 178.3L46.7 180.2L47.3 182.1L47.9 184.0L48.5 185.9L49.1 187.8L49.8 189.7L50.4 191.6L51.0 193.5L51.6 195.4L52.2 197.3L53.0 199.2L53.8 201.0L54.6 202.8L55.6 204.6L56.5 206.4L57.4 208.1L58.4 209.9L59.3 211.7L60.2 213.4L61.2 215.2L62.2 216.9L63.2 218.5L64.5 219.9L66.0 220.9L67.7 221.7L69.6 222.3L71.5 222.9L73.4 223.6L75.2 224.3L77.1 225.0L79.0 225.6L80.9 226.3L82.7 227.1L84.6 227.8L86.5 228.5L88.3 229.3L90.2 230.0L92.0 230.8L93.9 231.5L95.8 232.3L97.6 233.0L99.5 233.8L101.3 234.5L103.2 235.3L105.0 236.0L106.9 236.7L108.8 237.4L110.7 237.9L112.7 238.4L114.6 238.7L116.6 239.1L118.6 239.4L120.6 239.7L122.5 240.0L124.5 240.3L126.5 240.6L128.5 241.0L130.4 241.3L132.4 241.7L134.3 242.1L136.3 242.7L138.1 243.3L140.0 244.0L141.9 244.7L143.7 245.5L145.6 246.2L147.4 247.0L149.3 247.8L151.1 248.7L152.9 249.6L154.6 250.5L156.4 251.4L158.2 252.4L159.9 253.3L161.7 254.3L163.4 255.3L165.1 256.3L166.7 257.5L168.3 258.7L169.9 259.9L171.5 261.2L173.0 262.4L174.6 263.7L176.1 265.0L177.6 266.3L179.1 267.7L180.6 269.0L182.1 270.4L183.6 271.7L185.0 273.0L186.5 274.4L188.0 275.7L189.5 277.1L191.0 278.4L192.5 279.7L194.0 281.0L195.6 282.3L197.2 283.5L198.8 284.6L200.4 285.8L202.1 286.9L203.8 288.0L205.4 289.1L207.2 290.1L208.9 291.1L210.7 292.0" fill="none" stroke="#ff0000" stroke-width="1.7" stroke-dasharray="8.46 1.80 8.46 4.86" stroke-linejoin="round"/>
<path d="M38.5 290.0L38.9 288.0L39.2 286.1L39.6 284.1L39.9 282.1L40.3 280.2L40.6 278.2L41.0 276.2L41.3 274.3L41.8 272.3L42.2 270.3L42.7 268.4L43.1 266.5L43.6 264.5L44.1 262.6L44.6 260.6L45.1 258.7L45.7 256.8L46.3 254.9L46.9 253.0L47.5 251.1L48.2 249.2L48.8 247.3L49.6 245.4L50.3 243.6L51.2 241.8L52.0 240.0L52.8 238.1L53.7 236.3L54.5 234.5L55.4 232.7L56.3 230.9L57.1 229.1L58.0 227.3L58.8 225.5L59.7 223.7L60.5 221.9L61.4 220.1L62.3 218.3L63.2 216.5L64.1 214.7L65.1 213.0L66.0 211.2L67.0 209.5L68.0 207.7L68.9 206.0L69.9 204.2L70.9 202.5L71.9 200.8L73.0 199.1L74.1 197.4L75.2 195.8L76.4 194.1L77.5 192.5L78.6 190.8L79.6 189.1L80.6 187.4L81.6 185.6L82.6 183.9L83.6 182.2L84.7 180.5L85.9 178.9L87.1 177.4L88.5 175.9L89.9 174.5L91.3 173.1L92.8 171.7L94.3 170.4L95.7 169.0L97.2 167.7L98.7 166.3L100.1 165.0L101.5 163.5L102.9 162.0L104.2 160.6L105.5 159.1L106.9 157.6L108.2 156.1L109.5 154.6L110.9 153.1L112.2 151.6L113.5 150.1L114.9 148.6L116.2 147.2L117.6 145.7L118.9 144.2L120.3 142.8L121.7 141.3L123.1 139.9L124.5 138.5L125.9 137.1L127.3 135.7L128.8 134.2L130.2 132.8L131.6 131.4L132.9 129.9L134.2 128.4L135.5 126.8L136.7 125.3L137.9 123.7L139.1 122.1L140.4 120.5L141.6 118.9L142.8 117.3L144.0 115.7L145.2 114.1L146.4 112.5L147.6 110.9L148.8 109.3L150.0 107.7L151.3 106.2L152.6 104.7L154.0 103.3L155.5 102.0L157.0 100.6L158.5 99.3L159.9 98.0L161.4 96.6L162.8 95.2L164.2 93.7L165.6 92.3L166.9 90.8L168.3 89.3L169.6 87.8L170.8 86.3L172.0 84.7L173.2 83.0L174.3 81.4L175.3 79.7L176.3 77.9L177.3 76.2L178.3 74.4L179.2 72.7L180.1 70.9L180.9 69.1L181.8 67.3L182.6 65.4L183.4 63.6L184.1 61.7L184.8 59.9L185.5 58.0L186.2 56.1L186.8 54.2L187.4 52.3L188.0 50.4L188.6 48.5L189.1 46.6L189.7 44.6L190.3 42.7L190.9 40.8L191.4 38.9L192.0 37.0L192.6 35.1L193.2 33.1L193.7 31.2L194.3 29.3L194.8 27.4L195.4 25.5L195.9 23.5L196.3 21.6L196.8 19.6L197.3 17.7L197.8 15.8L198.3 13.8L198.8 11.9L199.0 10.9" fill="none" stroke="#ff0000" stroke-width="1.7" stroke-dasharray="8.46 1.80 8.46 4.86" stroke-linejoin="round"/>
<path d="M38.5 84.0L38.5 86.0L38.5 88.0L38.5 90.0L38.5 92.0L38.5 94.0L38.5 96.0L38.5 98.0L38.5 100.0L38.5 102.0L38.5 104.0L38.5 106.0L38.5 108.0L38.5 110.0L38.5 112.0L38.5 114.0L38.5 116.0L38.5 118.0L38.5 120.0L38.5 122.0L38.5 124.0L38.5 126.0L38.5 128.0L38.5 130.0L38.5 132.0L38.6 134.0L38.6 136.0L38.7 138.0L38.7 140.0L38.7 142.0L38.8 144.0L38.8 146.0L38.9 148.0L39.1 150.0L39.3 152.0L39.5 154.0L39.8 156.0L40.1 157.9L40.4 159.9L40.7 161.9L41.0 163.9L41.4 165.8L41.9 167.8L42.5 169.7L43.0 171.6L43.6 173.5L44.2 175.4L44.7 177.4L45.3 179.3L45.8 181.2L46.3 183.2L46.8 185.1L47.3 187.0L47.8 188.9L48.4 190.9L48.9 192.8L49.4 194.7L50.0 196.7L50.6 198.6L51.2 200.4L52.0 202.3L52.8 204.1L53.7 205.9L54.5 207.7L55.4 209.5L56.3 211.3L57.1 213.1L58.1 214.9L59.0 216.6L60.1 218.3L61.3 219.9L62.6 221.2L64.2 222.3L65.9 223.3L67.7 224.2L69.5 225.1L71.3 225.9L73.1 226.7L75.0 227.5L76.8 228.2L78.7 228.9L80.6 229.7L82.4 230.5L84.2 231.2L86.1 232.0L87.9 232.8L89.8 233.6L91.6 234.4L93.4 235.2L95.3 236.0L97.1 236.7L99.0 237.4L100.9 238.1L102.8 238.7L104.7 239.2L106.7 239.7L108.6 240.1L110.6 240.5L112.5 240.9L114.5 241.3L116.5 241.7L118.4 242.0L120.4 242.4L122.4 242.7L124.3 243.1L126.3 243.4L128.3 243.8L130.2 244.2L132.2 244.6L134.1 245.1L136.0 245.7L137.9 246.4L139.7 247.2L141.5 248.0L143.3 248.9L145.1 249.7L146.9 250.6L148.7 251.5L150.5 252.5L152.2 253.5L153.8 254.6L155.5 255.7L157.2 256.8L158.8 257.9L160.5 259.0L162.2 260.1L163.8 261.3L165.3 262.6L166.8 263.9L168.3 265.3L169.7 266.7L171.1 268.1L172.5 269.5L173.9 270.9L175.3 272.3L176.8 273.8L178.2 275.2L179.6 276.6L181.0 278.0L182.4 279.4L183.9 280.8L185.3 282.1L186.9 283.4L188.4 284.7L190.0 286.0L191.5 287.2L193.1 288.4L194.8 289.4L196.5 290.4L198.3 291.2L200.2 291.9L202.1 292.6L203.0 293.0" fill="none" stroke="#ff00ff" stroke-width="1.7" stroke-dasharray="6.21 1.80 6.21 1.80 6.21 4.86" stroke-linejoin="round"/>
<path d="M38.5 290.0L38.8 288.0L39.2 286.1L39.5 284.1L39.9 282.1L40.2 280.1L40.6 278.2L40.9 276.2L41.3 274.2L41.7 272.3L42.1 270.3L42.5 268.4L43.0 266.4L43.5 264.5L43.9 262.5L44.4 260.6L45.0 258.7L45.5 256.8L46.1 254.9L46.7 252.9L47.3 251.0L48.0 249.1L48.6 247.3L49.4 245.4L50.1 243.6L50.9 241.7L51.7 239.9L52.6 238.1L53.4 236.2L54.2 234.4L55.1 232.6L55.9 230.8L56.7 229.0L57.6 227.2L58.4 225.4L59.3 223.5L60.1 221.7L61.0 219.9L61.8 218.1L62.7 216.3L63.6 214.5L64.4 212.7L65.4 210.9L66.3 209.2L67.2 207.4L68.2 205.6L69.1 203.9L70.1 202.1L71.1 200.4L72.2 198.7L73.3 197.0L74.4 195.4L75.5 193.7L76.6 192.0L77.6 190.3L78.7 188.6L79.7 186.9L80.7 185.2L81.7 183.4L82.7 181.7L83.7 180.0L84.8 178.3L86.0 176.7L87.3 175.2L88.6 173.8L90.0 172.3L91.5 170.9L92.9 169.6L94.4 168.2L95.8 166.8L97.3 165.5L98.7 164.1L100.1 162.6L101.5 161.2L102.8 159.7L104.1 158.1L105.3 156.6L106.6 155.1L107.9 153.5L109.2 152.0L110.5 150.5L111.8 148.9L113.1 147.4L114.4 145.9L115.7 144.4L117.0 142.9L118.3 141.3L119.6 139.8L120.9 138.3L122.2 136.8L123.5 135.3L124.8 133.7L126.1 132.2L127.3 130.7L128.6 129.1L129.7 127.5L130.9 125.8L132.1 124.2L133.2 122.6L134.4 120.9L135.5 119.3L136.7 117.7L137.9 116.1L139.1 114.5L140.2 112.9L141.4 111.2L142.6 109.6L143.8 108.0L145.0 106.4L146.2 104.8L147.5 103.3L148.7 101.7L150.0 100.2L151.3 98.6L152.5 97.1L153.8 95.5L155.1 94.0L156.3 92.4L157.6 90.9L158.8 89.3L160.0 87.7L161.1 86.1L162.2 84.4L163.3 82.7L164.3 81.0L165.4 79.3L166.4 77.6L167.4 75.8L168.4 74.1L169.3 72.3L170.2 70.5L171.1 68.7L171.9 66.9L172.6 65.1L173.3 63.2L174.0 61.3L174.7 59.4L175.3 57.5L176.0 55.6L176.6 53.7L177.3 51.9L178.0 50.0L178.6 48.1L179.2 46.2L179.8 44.3L180.4 42.3L181.0 40.4L181.5 38.5L182.1 36.6L182.7 34.7L183.3 32.8L183.8 30.9L184.4 28.9L185.0 27.0L185.6 25.1L186.3 23.2L186.9 21.3L187.5 19.4L188.2 17.5L188.8 15.6L189.4 13.7L190.1 11.8L190.4 10.9" fill="none" stroke="#ff00ff" stroke-width="1.7" stroke-dasharray="6.21 1.80 6.21 1.80 6.21 4.86" stroke-linejoin="round"/>
<path d="M38.5 87.0L38.5 89.0L38.5 91.0L38.5 93.0L38.5 95.0L38.5 97.0L38.5 99.0L38.5 101.0L38.5 103.0L38.5 105.0L38.5 107.0L38.5 109.0L38.5 111.0L38.5 113.0L38.5 115.0L38.5 117.0L38.5 119.0L38.5 121.0L38.5 123.0L38.5 125.0L38.5 127.0L38.5 129.0L38.5 131.0L38.5 133.0L38.5 135.0L38.5 137.1L38.5 139.1L38.5 141.1L38.5 143.1L38.5 145.1L38.5 147.1L38.6 149.1L38.6 151.1L38.8 153.1L38.9 155.1L39.1 157.0L39.3 159.0L39.5 161.0L39.8 163.0L40.2 165.0L40.6 166.9L41.0 168.9L41.5 170.8L42.1 172.7L42.6 174.7L43.1 176.6L43.6 178.5L44.0 180.5L44.5 182.4L45.0 184.4L45.4 186.3L45.9 188.3L46.4 190.2L46.8 192.2L47.3 194.1L47.8 196.1L48.3 198.0L48.8 199.9L49.4 201.9L50.0 203.8L50.6 205.7L51.2 207.6L51.9 209.5L52.5 211.3L53.3 213.1L54.3 214.9L55.4 216.5L56.6 218.0L57.9 219.5L59.4 220.9L60.8 222.3L62.4 223.5L64.0 224.8L65.6 225.9L67.2 227.0L68.9 228.1L70.7 229.1L72.4 230.0L74.2 230.9L76.0 231.8L77.9 232.6L79.7 233.3L81.6 234.0L83.4 234.7L85.3 235.4L87.2 236.1L89.1 236.8L91.0 237.4L92.9 237.9L94.8 238.5L96.8 239.0L98.7 239.5L100.7 240.0L102.6 240.4L104.6 240.7L106.6 241.0L108.5 241.3L110.5 241.7L112.5 242.0L114.4 242.4L116.4 242.8L118.4 243.2L120.3 243.6L122.3 244.0L124.2 244.5L126.2 244.9L128.1 245.4L130.1 245.9L132.0 246.4L133.9 247.0L135.6 247.8L137.3 248.8L139.0 250.0L140.6 251.1L142.2 252.3L143.8 253.5L145.5 254.7L147.1 255.9L148.7 257.1L150.3 258.3L151.8 259.5L153.4 260.7L155.0 262.0L156.5 263.2L158.1 264.5L159.6 265.8L161.2 267.1L162.7 268.4L164.2 269.7L165.6 271.1L167.1 272.4L168.6 273.8L170.1 275.1L171.5 276.5L172.9 277.9L174.4 279.3L175.9 280.6L177.4 281.9L179.0 283.2L180.5 284.4L182.1 285.7L183.7 286.9L185.3 288.0L187.0 289.1L188.8 290.1L190.5 291.1L192.3 292.0L194.0 293.0" fill="none" stroke="#0000c8" stroke-width="1.7" stroke-dasharray="6.21 1.80 10.80 4.86" stroke-linejoin="round"/>
<path d="M38.5 290.0L38.8 288.0L39.2 286.1L39.5 284.1L39.9 282.1L40.2 280.1L40.6 278.2L40.9 276.2L41.3 274.2L41.6 272.3L42.0 270.3L42.4 268.4L42.9 266.4L43.3 264.5L43.8 262.5L44.2 260.6L44.8 258.6L45.3 256.7L45.9 254.8L46.5 252.9L47.1 251.0L47.7 249.1L48.4 247.2L49.1 245.3L49.8 243.5L50.6 241.6L51.3 239.8L52.1 237.9L52.9 236.1L53.8 234.3L54.6 232.5L55.5 230.7L56.3 228.8L57.1 227.0L57.9 225.2L58.7 223.3L59.5 221.5L60.3 219.7L61.1 217.9L61.9 216.0L62.8 214.2L63.6 212.4L64.5 210.6L65.4 208.8L66.3 207.0L67.2 205.3L68.2 203.5L69.1 201.7L70.1 200.0L71.0 198.2L72.0 196.5L73.1 194.8L74.1 193.1L75.1 191.3L76.1 189.6L77.1 187.9L78.2 186.2L79.2 184.5L80.2 182.7L81.2 181.0L82.3 179.3L83.3 177.6L84.4 175.9L85.5 174.3L86.7 172.7L88.0 171.2L89.4 169.7L90.7 168.2L92.1 166.8L93.5 165.4L94.9 164.0L96.3 162.6L97.8 161.1L99.1 159.7L100.5 158.2L101.7 156.7L103.0 155.1L104.2 153.5L105.4 151.9L106.6 150.4L107.9 148.8L109.1 147.2L110.2 145.6L111.4 143.9L112.6 142.3L113.7 140.6L114.8 139.0L116.0 137.3L117.1 135.7L118.2 134.0L119.4 132.4L120.5 130.8L121.7 129.1L122.9 127.5L124.1 125.9L125.3 124.3L126.5 122.7L127.7 121.1L128.8 119.5L130.0 117.9L131.1 116.2L132.3 114.6L133.4 112.9L134.5 111.3L135.6 109.6L136.7 107.9L137.8 106.3L139.0 104.6L140.1 103.0L141.3 101.4L142.6 99.8L143.8 98.3L145.0 96.7L146.3 95.1L147.5 93.6L148.7 92.0L150.0 90.4L151.1 88.8L152.3 87.2L153.4 85.5L154.5 83.8L155.4 82.1L156.3 80.3L157.2 78.5L158.0 76.7L158.8 74.8L159.6 73.0L160.3 71.1L161.1 69.3L161.8 67.4L162.4 65.5L163.0 63.6L163.6 61.7L164.2 59.8L164.7 57.8L165.3 55.9L165.9 54.0L166.5 52.1L167.0 50.2L167.6 48.3L168.2 46.3L168.8 44.4L169.3 42.5L169.9 40.6L170.5 38.7L171.1 36.8L171.6 34.8L172.2 32.9L172.8 31.0L173.4 29.1L174.1 27.2L174.8 25.4L175.6 23.5L176.4 21.7L177.2 19.9L178.0 18.1L178.9 16.3L179.8 14.5L180.7 12.7L181.6 10.9" fill="none" stroke="#0000c8" stroke-width="1.7" stroke-dasharray="6.21 1.80 10.80 4.86" stroke-linejoin="round"/>
<path d="M38.5 344.0L38.5 346.0L38.5 348.0L38.5 350.0L38.5 352.0L38.5 354.1L38.5 356.1L38.5 358.1L38.5 360.1L38.5 362.1L38.5 364.1L38.5 366.1L38.5 368.1L38.5 370.1L38.5 372.1L38.5 374.2L38.5 376.2L38.5 378.2L38.5 380.2L38.5 382.2L38.5 384.2L38.5 386.2L38.5 388.2L38.5 390.2L38.5 392.3L38.5 394.3L38.5 396.3L38.5 398.3L38.5 400.3L38.5 402.3L38.5 404.3L38.5 406.3L38.5 408.3L38.5 410.3L38.5 412.4L38.5 414.4L38.5 416.4L38.5 418.4L38.5 420.4L38.5 422.4L38.5 424.4L38.5 426.4L38.5 428.4L38.6 430.4L38.6 432.5L38.6 434.5L38.6 436.5L38.6 438.5L38.6 440.5L38.6 442.5L38.6 444.5L38.7 446.5L38.7 448.5L38.7 450.6L38.7 452.6L38.7 454.6L38.8 456.6L39.0 458.6L39.1 460.6L39.2 462.6L39.3 463.6L40.9 462.7L42.7 462.3L44.4 462.8L46.0 463.9L47.3 465.3L48.5 466.9L49.5 468.6L50.5 470.3L51.4 472.1L52.2 474.0L53.0 475.8L53.8 477.6L54.6 479.5L55.4 481.3L56.2 483.1L57.0 485.0L57.8 486.8L58.6 488.7L59.4 490.5L60.1 492.3L60.9 494.2L61.7 496.0L62.4 497.9L63.2 499.7L64.0 501.6L64.8 503.4L65.6 505.3L66.4 507.1L67.2 508.9L68.1 510.7L68.9 512.6L69.8 514.4L70.6 516.2L71.6 517.9L72.5 519.7L73.5 521.5L74.5 523.2L75.6 524.9L76.7 526.5L78.0 528.0L79.5 529.4L81.1 530.4L82.9 531.2L84.8 531.8L86.8 532.1L88.8 532.4L90.8 532.6L92.7 532.8L94.7 532.9L96.7 533.0L98.7 533.0L100.7 533.0L102.8 533.0L104.8 533.0L106.8 533.0L108.8 533.0L110.8 533.0L112.8 533.0L114.8 533.0L116.8 533.0L118.8 533.0L120.8 533.0L122.8 533.0L124.8 533.0L126.8 533.0L128.8 533.0L130.8 533.0L132.8 533.0L134.8 533.0L136.8 533.0L138.8 533.0L140.8 533.0L142.8 533.0L144.8 532.9L146.8 532.9L148.8 532.9L150.8 532.8L152.8 532.8L154.8 532.8L156.8 532.7L158.8 532.7L160.8 532.7L162.8 532.6L164.9 532.6L166.9 532.6L168.9 532.7L170.9 532.7L172.9 532.8L174.9 532.8L176.9 532.8L178.9 532.9L180.9 532.9L182.9 533.0L184.9 533.0L186.9 533.1L188.9 533.2L190.9 533.3L192.9 533.4L194.9 533.5L196.9 533.6L198.9 533.7L200.9 533.8L202.9 533.9L204.9 534.0L206.9 534.2L208.9 534.5L210.9 534.7L212.9 534.9L214.8 535.2L216.8 535.4L218.8 535.8L220.8 536.2L222.7 536.5L224.7 537.0L226.6 537.4L228.6 537.8L230.6 538.2L232.5 538.7L234.5 539.1L236.4 539.5L238.4 540.0L240.3 540.5L242.2 541.1L244.1 541.8L246.0 542.5L247.8 543.2L249.7 544.0L251.4 544.9L253.2 545.9L254.9 546.9L256.6 548.0L258.3 549.0L260.0 550.1L261.7 551.2L263.3 552.3L265.0 553.5L266.6 554.6L268.3 555.8L269.9 557.0L271.4 558.2L273.0 559.5L274.5 560.8L276.0 562.1L277.5 563.4L279.1 564.7L280.6 565.9L282.2 567.2L283.8 568.4L285.4 569.6L287.0 570.8L288.6 572.0L290.3 573.2L291.9 574.3L293.5 575.5L295.2 576.6L296.8 577.8L298.5 578.9L300.1 580.0L301.8 581.1L303.5 582.1L305.2 583.1L307.0 584.2L308.7 585.2L310.5 586.1L312.2 587.0L314.1 587.9L315.9 588.7L317.7 589.6L318.6 590.0" fill="none" stroke="#000000" stroke-width="1.7" stroke-linejoin="round"/>
<path d="M38.5 587.0L38.9 585.0L39.3 583.1L39.6 581.1L40.0 579.1L40.4 577.2L40.9 575.2L41.5 573.3L42.2 571.5L42.9 569.6L43.7 567.8L44.5 565.9L45.3 564.1L46.1 562.3L46.9 560.5L47.8 558.7L48.8 556.9L49.8 555.2L50.8 553.4L51.8 551.7L52.8 550.0L53.9 548.3L55.0 546.6L56.0 544.9L57.1 543.2L58.2 541.5L59.3 539.9L60.3 538.2L61.4 536.5L62.4 534.7L63.4 533.0L64.4 531.3L65.4 529.5L66.4 527.8L67.4 526.1L68.4 524.3L69.5 522.7L70.6 521.0L71.7 519.3L72.9 517.7L74.1 516.1L75.2 514.5L76.4 512.9L77.6 511.3L78.9 509.7L80.2 508.2L81.5 506.7L82.9 505.2L84.2 503.7L85.5 502.2L86.8 500.7L88.2 499.2L89.5 497.7L90.8 496.2L92.1 494.7L93.5 493.3L94.9 491.8L96.3 490.4L97.7 489.0L99.2 487.6L100.6 486.2L102.0 484.8L103.4 483.4L104.9 482.0L106.4 480.8L108.0 479.6L109.7 478.5L111.3 477.4L113.0 476.2L114.6 475.1L116.3 474.0L118.0 473.0L119.7 471.9L121.5 471.0L123.2 470.0L125.0 469.2L126.9 468.3L128.6 467.5L130.4 466.5L132.1 465.4L133.7 464.3L135.3 463.1L136.9 461.9L138.5 460.7L140.1 459.5L141.7 458.3L143.3 457.0L144.9 455.8L146.5 454.6L148.1 453.4L149.7 452.2L151.2 451.0L152.8 449.7L154.4 448.5L155.9 447.3L157.5 446.0L159.1 444.7L160.6 443.5L162.2 442.2L163.8 441.0L165.3 439.7L166.9 438.5L168.4 437.2L170.0 436.0L171.5 434.7L173.0 433.4L174.6 432.1L176.1 430.8L177.6 429.5L179.2 428.3L180.8 427.0L182.3 425.7L183.9 424.5L185.4 423.2L187.0 421.9L188.5 420.6L190.0 419.3L191.5 418.0L193.0 416.6L194.4 415.3L195.9 413.9L197.4 412.6L198.8 411.2L200.2 409.8L201.6 408.4L203.1 406.9L204.5 405.5L205.9 404.1L207.3 402.7L208.7 401.3L210.1 399.8L211.4 398.4L212.6 396.8L213.7 395.1L214.6 393.4L215.4 391.5L216.1 389.7L216.7 387.8L217.3 385.9L217.8 383.9L218.2 382.0L218.7 380.0L219.1 378.1L219.5 376.1L219.8 374.1L220.2 372.2L220.5 370.2L220.8 368.2L221.1 366.2L221.4 364.2L221.6 362.3L221.9 360.3L222.1 358.3L222.4 356.3L222.6 354.3L222.8 352.3L223.0 350.3L223.2 348.3L223.4 346.3L223.6 344.4L223.8 342.4L223.9 340.4L224.1 338.4L224.3 336.4L224.4 334.4L224.6 332.4L224.7 330.4L224.9 328.4L225.0 326.4L225.1 324.4L225.2 322.4L225.4 320.4L225.5 318.4L225.6 316.4L225.7 314.4L225.8 312.4L225.9 310.4L226.0 308.4" fill="none" stroke="#000000" stroke-width="1.7" stroke-linejoin="round"/>
<path d="M38.5 378.0h0M38.5 383.4h0M38.5 388.7h0M38.5 394.1h0M38.5 399.4h0M38.5 404.8h0M38.5 410.1h0M38.5 415.5h0M38.5 420.8h0M38.5 426.2h0M38.5 431.5h0M38.5 436.8h0M38.5 442.2h0M38.6 447.5h0M38.7 452.9h0M39.0 458.2h0M40.0 463.5h0M41.5 467.2h0M43.5 470.6h0M45.6 474.0h0M47.7 477.4h0M49.9 480.8h0M52.1 484.2h0M54.3 487.5h0M56.5 490.8h0M58.8 494.1h0M61.2 497.3h0M63.6 500.5h0M66.2 503.6h0M68.9 506.5h0M71.8 509.3h0M74.8 511.9h0M77.9 514.5h0M80.8 517.2h0M83.8 519.8h0M87.0 522.2h0M90.4 524.3h0M94.0 526.1h0M97.7 527.5h0M101.5 528.8h0M105.3 529.9h0M109.2 530.8h0M113.2 531.6h0M117.1 532.4h0M121.0 533.0h0M125.0 533.5h0M129.0 534.0h0M132.9 534.6h0M136.8 535.4h0M140.7 536.5h0M144.5 537.8h0M148.1 539.4h0M151.7 541.3h0M155.0 543.5h0M158.2 545.9h0M161.2 548.6h0M163.9 551.5h0M166.6 554.4h0M169.5 557.2h0M172.4 559.9h0M175.3 562.7h0M178.2 565.5h0M181.0 568.3h0M183.9 571.1h0M186.8 573.8h0M189.8 576.5h0M192.8 579.1h0M195.8 581.7h0M198.9 584.3h0M201.9 586.9h0M203.8 588.5h0" fill="none" stroke="#1414ff" stroke-width="3.6" stroke-linecap="round"/>
<path d="M38.5 586.0h0M39.7 580.8h0M40.7 576.9h0M41.8 573.1h0M42.9 569.2h0M44.2 565.4h0M45.5 561.6h0M46.8 557.9h0M48.0 554.1h0M49.2 550.2h0M50.5 546.4h0M51.8 542.7h0M53.3 539.0h0M54.9 535.3h0M56.4 531.6h0M58.1 528.0h0M59.8 524.3h0M61.5 520.7h0M63.3 517.2h0M65.1 513.6h0M66.9 510.0h0M68.7 506.5h0M70.6 502.9h0M72.5 499.4h0M74.6 496.0h0M76.9 492.8h0M79.3 489.5h0M81.7 486.3h0M84.1 483.1h0M86.7 480.1h0M89.5 477.2h0M92.4 474.5h0M95.6 472.0h0M98.7 469.6h0M101.9 467.2h0M105.1 464.8h0M108.4 462.4h0M111.7 460.3h0M115.2 458.2h0M118.6 456.2h0M122.0 454.1h0M125.3 451.9h0M128.6 449.5h0M131.6 446.9h0M134.6 444.2h0M137.5 441.5h0M140.3 438.6h0M142.8 435.6h0M145.0 432.2h0M147.1 428.8h0M149.2 425.4h0M151.2 421.9h0M153.2 418.5h0M155.3 415.0h0M157.3 411.6h0M159.3 408.1h0M161.3 404.7h0M163.3 401.2h0M165.4 397.8h0M167.6 393.7h0M169.7 389.6h0M171.6 385.5h0M173.3 381.2h0M174.9 376.9h0M176.4 372.5h0M177.7 368.1h0M178.8 363.7h0M179.9 359.2h0M181.0 354.7h0M181.9 350.2h0M182.7 345.7h0M183.6 341.2h0M184.4 336.6h0M185.1 332.1h0M185.9 327.6h0M186.6 323.0h0M187.4 318.5h0M188.2 313.9h0M188.9 309.4h0" fill="none" stroke="#1414ff" stroke-width="3.6" stroke-linecap="round"/>
<path d="M38.5 386.0L38.5 388.0L38.5 390.0L38.5 392.0L38.5 394.0L38.5 396.0L38.5 398.0L38.5 400.0L38.5 402.0L38.5 404.0L38.5 406.0L38.5 408.0L38.5 410.0L38.5 412.0L38.5 414.0L38.5 416.0L38.5 418.0L38.5 420.0L38.5 422.0L38.5 424.0L38.5 426.0L38.5 428.0L38.5 430.0L38.5 432.0L38.5 434.0L38.5 436.0L38.5 438.0L38.5 440.0L38.5 442.0L38.5 444.0L38.5 446.0L38.5 448.0L38.5 450.0L38.5 452.0L38.6 454.0L38.6 456.0L38.7 458.0L38.9 460.0L39.0 462.0L39.2 464.0L39.5 466.0L39.8 468.0L40.1 470.0L40.5 471.9L41.0 473.9L41.5 475.8L42.1 477.7L42.7 479.6L43.3 481.5L44.0 483.4L44.6 485.3L45.3 487.2L46.0 489.0L46.7 490.9L47.4 492.8L48.1 494.7L48.8 496.5L49.6 498.4L50.4 500.2L51.2 502.0L52.0 503.8L52.9 505.6L53.8 507.4L54.8 509.2L55.8 510.9L56.8 512.6L57.9 514.3L59.0 516.0L60.2 517.6L61.4 519.2L62.6 520.8L63.9 522.3L65.2 523.8L66.5 525.3L68.0 526.7L69.4 528.0L71.0 529.3L72.6 530.4L74.4 531.3L76.2 532.1L78.1 532.7L80.0 533.2L81.9 533.7L83.9 534.0L85.9 534.3L87.9 534.6L89.9 534.8L91.9 535.0L93.8 535.2L95.8 535.5L97.8 535.7L99.8 536.0L101.8 536.4L103.7 536.8L105.7 537.1L107.6 537.6L109.6 538.0L111.5 538.5L113.4 539.1L115.4 539.6L117.3 540.2L119.1 540.9L120.9 541.8L122.7 542.7L124.4 543.7L126.1 544.7L127.8 545.8L129.5 546.9L131.1 548.0L132.7 549.2L134.3 550.5L135.9 551.7L137.4 553.0L139.0 554.2L140.5 555.5L142.0 556.8L143.5 558.2L145.0 559.5L146.5 560.8L148.0 562.2L149.5 563.5L150.9 564.9L152.4 566.2L153.9 567.5L155.4 568.9L156.9 570.2L158.4 571.5L159.9 572.8L161.4 574.1L163.0 575.4L164.6 576.6L166.1 577.9L167.7 579.2L169.2 580.5L170.6 581.9L172.0 583.3L173.3 584.8L174.7 586.3L176.0 587.8L177.3 589.3L178.0 590.0" fill="none" stroke="#8a00ff" stroke-width="1.7" stroke-dasharray="5.60 2.50" stroke-linejoin="round"/>
<path d="M38.5 586.0L38.9 584.0L39.4 582.1L39.8 580.2L40.3 578.2L40.8 576.3L41.4 574.3L41.9 572.4L42.5 570.5L43.0 568.6L43.6 566.7L44.2 564.8L44.9 562.9L45.5 561.0L46.2 559.1L46.8 557.2L47.4 555.3L48.0 553.4L48.6 551.4L49.2 549.5L49.7 547.6L50.4 545.7L51.0 543.8L51.6 541.9L52.4 540.1L53.1 538.2L53.9 536.4L54.7 534.5L55.5 532.7L56.3 530.9L57.1 529.0L58.0 527.2L58.8 525.4L59.6 523.6L60.5 521.8L61.4 520.0L62.2 518.2L63.1 516.4L64.0 514.6L64.9 512.8L65.8 511.0L66.7 509.2L67.6 507.4L68.4 505.6L69.2 503.8L69.8 501.9L70.3 500.0L70.8 498.1L71.5 496.2L72.3 494.4L73.2 492.7L74.2 490.9L75.3 489.2L76.4 487.6L77.5 485.9L78.7 484.3L79.9 482.7L81.1 481.1L82.4 479.6L83.7 478.0L85.0 476.5L86.3 475.1L87.7 473.7L89.2 472.3L90.7 470.9L92.2 469.7L93.8 468.4L95.4 467.2L97.0 466.1L98.6 464.9L100.1 463.6L101.5 462.2L102.9 460.9L104.4 459.5L105.8 458.1L107.3 456.8L108.7 455.4L110.1 454.0L111.5 452.5L112.9 451.0L114.2 449.5L115.5 448.1L116.9 446.5L118.1 445.0L119.4 443.4L120.6 441.9L121.8 440.3L123.0 438.7L124.2 437.1L125.3 435.4L126.4 433.7L127.4 432.0L128.5 430.3L129.5 428.6L130.4 426.8L131.3 425.0L132.2 423.2L133.1 421.4L133.9 419.6L134.8 417.8L135.7 416.0L136.5 414.2L137.4 412.4L138.2 410.6L139.0 408.8L139.9 406.9L140.7 405.1L141.5 403.3L142.4 401.5L143.2 399.7L144.1 397.9L145.0 396.1L145.8 394.3L146.7 392.5L147.6 390.7L148.4 388.8L149.1 387.0L149.8 385.1L150.5 383.2L151.2 381.3L151.8 379.5L152.5 377.6L153.2 375.7L153.8 373.8L154.5 371.9L155.1 370.0L155.8 368.1L156.5 366.2L157.1 364.3L157.7 362.4L158.3 360.5L158.8 358.6L159.2 356.6L159.5 354.7L159.9 352.7L160.2 350.7L160.6 348.8L160.9 346.8L161.3 344.8L161.6 342.9L162.0 340.9L162.3 338.9L162.7 336.9L163.0 335.0L163.4 333.0L163.7 331.0L164.1 329.1L164.4 327.1L164.8 325.1L165.2 323.2L165.5 321.2L165.9 319.2L166.3 317.3L166.6 315.3L167.0 313.3L167.4 311.4L167.7 309.4L167.9 308.4" fill="none" stroke="#8a00ff" stroke-width="1.7" stroke-dasharray="5.60 2.50" stroke-linejoin="round"/>
<path d="M38.5 389.0L38.5 391.0L38.5 393.0L38.5 395.0L38.5 397.0L38.5 399.0L38.5 401.0L38.5 403.0L38.5 405.1L38.5 407.1L38.5 409.1L38.5 411.1L38.5 413.1L38.5 415.1L38.5 417.1L38.5 419.1L38.5 421.1L38.5 423.1L38.5 425.1L38.5 427.1L38.5 429.1L38.5 431.1L38.5 433.1L38.5 435.1L38.5 437.2L38.5 439.2L38.5 441.2L38.5 443.2L38.5 445.2L38.5 447.2L38.5 449.2L38.5 451.2L38.5 453.2L38.6 455.2L38.7 457.2L38.8 459.2L38.9 461.2L39.0 463.2L39.1 465.2L39.3 467.2L39.5 469.2L39.8 471.2L40.1 473.2L40.3 475.2L40.7 477.2L41.0 479.1L41.4 481.1L41.8 483.1L42.2 485.0L42.6 487.0L43.0 489.0L43.4 490.9L43.9 492.9L44.4 494.8L45.0 496.7L45.6 498.6L46.1 500.6L46.7 502.5L47.4 504.4L48.0 506.3L48.7 508.1L49.5 510.0L50.3 511.8L51.1 513.7L51.9 515.5L52.8 517.3L53.7 519.1L54.7 520.8L55.8 522.5L56.9 524.2L58.1 525.8L59.3 527.3L60.8 528.7L62.3 529.9L63.9 531.0L65.6 532.1L67.4 532.9L69.3 533.6L71.2 534.2L73.1 534.7L75.1 535.1L77.0 535.5L79.0 535.8L81.0 536.0L83.0 536.3L85.0 536.5L87.0 536.8L89.0 537.0L91.0 537.1L93.0 537.3L95.0 537.5L97.0 537.7L98.9 538.0L100.9 538.4L102.8 538.9L104.8 539.4L106.7 540.0L108.6 540.7L110.4 541.4L112.3 542.2L114.1 543.1L115.9 544.0L117.6 544.9L119.4 545.9L121.0 547.0L122.6 548.2L124.2 549.4L125.8 550.6L127.4 551.9L128.9 553.2L130.4 554.5L132.0 555.8L133.5 557.1L135.0 558.5L136.4 559.8L137.9 561.1L139.4 562.5L140.9 563.8L142.4 565.2L143.9 566.5L145.4 567.9L146.9 569.2L148.4 570.5L149.9 571.9L151.4 573.2L152.8 574.6L154.3 575.9L155.8 577.2L157.3 578.6L158.8 579.9L160.3 581.3L161.7 582.7L163.2 584.1L164.6 585.4L166.1 586.8L167.5 588.2L169.0 589.6" fill="none" stroke="#0a6414" stroke-width="1.7" stroke-dasharray="7.50 3.50" stroke-linejoin="round"/>
<path d="M38.5 586.0L38.9 584.0L39.4 582.1L39.8 580.1L40.3 578.2L40.8 576.3L41.3 574.3L41.8 572.4L42.4 570.5L42.9 568.5L43.5 566.6L44.1 564.7L44.7 562.8L45.3 560.9L45.9 559.0L46.6 557.1L47.2 555.2L47.7 553.3L48.3 551.3L48.9 549.4L49.5 547.5L50.1 545.6L50.7 543.7L51.3 541.8L52.0 539.9L52.7 538.1L53.5 536.2L54.2 534.4L55.0 532.5L55.8 530.7L56.6 528.8L57.4 527.0L58.2 525.1L59.0 523.3L59.8 521.5L60.7 519.7L61.5 517.9L62.3 516.0L63.1 514.2L63.9 512.3L64.6 510.5L65.3 508.6L65.9 506.7L66.6 504.8L67.3 502.9L68.0 501.1L68.7 499.2L69.4 497.3L70.2 495.5L71.1 493.7L72.0 491.9L73.0 490.2L74.0 488.5L75.1 486.8L76.1 485.1L77.2 483.4L78.3 481.7L79.5 480.1L80.7 478.5L81.9 476.9L83.2 475.4L84.5 473.9L85.9 472.4L87.3 471.0L88.8 469.6L90.2 468.3L91.7 466.9L93.2 465.6L94.7 464.3L96.2 462.9L97.7 461.6L99.2 460.3L100.7 458.9L102.1 457.6L103.6 456.2L105.0 454.8L106.4 453.4L107.8 452.0L109.2 450.5L110.4 448.9L111.6 447.3L112.8 445.7L114.0 444.1L115.2 442.5L116.4 440.9L117.5 439.2L118.6 437.6L119.7 435.9L120.8 434.2L121.8 432.5L122.9 430.8L123.9 429.1L125.0 427.4L126.0 425.6L127.0 423.9L128.0 422.2L128.9 420.4L129.8 418.6L130.7 416.8L131.6 415.0L132.4 413.2L133.2 411.4L134.0 409.5L134.8 407.7L135.6 405.9L136.4 404.0L137.1 402.2L137.9 400.3L138.7 398.4L139.4 396.6L140.2 394.7L140.9 392.9L141.6 391.0L142.4 389.1L143.0 387.3L143.7 385.4L144.3 383.5L145.0 381.6L145.6 379.7L146.2 377.8L146.7 375.8L147.3 373.9L147.9 372.0L148.4 370.1L149.0 368.2L149.6 366.2L150.1 364.3L150.7 362.4L151.2 360.5L151.6 358.5L152.0 356.5L152.4 354.6L152.7 352.6L153.1 350.6L153.4 348.7L153.8 346.7L154.1 344.7L154.4 342.7L154.8 340.8L155.1 338.8L155.5 336.8L155.8 334.9L156.2 332.9L156.6 330.9L157.0 329.0L157.4 327.0L157.8 325.0L158.2 323.1L158.7 321.1L159.1 319.2L159.5 317.2L159.9 315.3L160.3 313.3L160.8 311.3L161.2 309.4L161.4 308.4" fill="none" stroke="#0a6414" stroke-width="1.7" stroke-dasharray="7.50 3.50" stroke-linejoin="round"/>
<path d="M38.5 392.0L38.5 394.0L38.5 396.0L38.5 398.0L38.5 400.0L38.5 402.0L38.5 404.0L38.5 406.0L38.5 408.1L38.5 410.1L38.5 412.1L38.5 414.1L38.5 416.1L38.5 418.1L38.5 420.1L38.5 422.1L38.5 424.1L38.5 426.1L38.5 428.1L38.5 430.1L38.5 432.1L38.5 434.1L38.5 436.2L38.5 438.2L38.5 440.2L38.5 442.2L38.5 444.2L38.5 446.2L38.5 448.2L38.5 450.2L38.5 452.2L38.5 454.2L38.5 456.2L38.5 458.2L38.6 460.2L38.7 462.2L38.8 464.2L38.9 466.2L39.0 468.2L39.1 470.2L39.3 472.2L39.5 474.2L39.8 476.2L40.0 478.2L40.3 480.2L40.5 482.2L40.8 484.2L41.1 486.2L41.3 488.2L41.6 490.2L41.9 492.1L42.2 494.1L42.5 496.1L42.8 498.1L43.2 500.1L43.6 502.0L44.1 504.0L44.5 505.9L45.0 507.9L45.5 509.8L46.0 511.7L46.6 513.7L47.3 515.5L48.1 517.4L48.8 519.2L49.7 521.1L50.6 522.8L51.6 524.6L52.7 526.2L53.9 527.8L55.1 529.4L56.5 530.8L58.0 532.1L59.6 533.2L61.3 534.2L63.1 535.0L65.0 535.7L66.9 536.2L68.8 536.7L70.8 537.0L72.8 537.4L74.7 537.7L76.7 538.0L78.7 538.2L80.7 538.5L82.7 538.7L84.7 539.0L86.7 539.3L88.7 539.7L90.6 540.0L92.6 540.4L94.6 540.8L96.5 541.2L98.4 541.8L100.3 542.4L102.2 543.2L104.0 544.0L105.8 544.9L107.5 545.8L109.3 546.8L110.9 547.9L112.6 549.1L114.2 550.3L115.7 551.6L117.3 552.8L118.8 554.1L120.4 555.4L121.9 556.7L123.4 558.1L124.9 559.4L126.4 560.7L127.9 562.1L129.3 563.5L130.8 564.8L132.2 566.2L133.6 567.6L135.1 569.1L136.5 570.5L137.9 571.9L139.3 573.3L140.8 574.7L142.3 576.0L143.8 577.4L145.3 578.7L146.7 580.1L148.2 581.4L149.7 582.8L151.2 584.1L152.6 585.5L154.1 586.9L155.6 588.3L157.0 589.6L158.5 591.0" fill="none" stroke="#00c800" stroke-width="1.7" stroke-dasharray="10.00 4.00" stroke-linejoin="round"/>
<path d="M38.5 586.0L38.9 584.0L39.4 582.1L39.8 580.1L40.2 578.2L40.7 576.2L41.2 574.3L41.7 572.3L42.2 570.4L42.8 568.5L43.3 566.5L43.9 564.6L44.5 562.7L45.1 560.8L45.7 558.9L46.3 557.0L46.9 555.0L47.4 553.1L48.0 551.2L48.6 549.3L49.2 547.3L49.8 545.4L50.4 543.5L51.0 541.6L51.7 539.7L52.4 537.9L53.1 536.0L53.9 534.1L54.6 532.3L55.4 530.4L56.2 528.6L57.0 526.7L57.7 524.9L58.5 523.0L59.3 521.2L60.1 519.3L60.9 517.5L61.7 515.6L62.4 513.8L63.2 511.9L63.9 510.1L64.6 508.2L65.4 506.3L66.1 504.4L66.8 502.6L67.5 500.7L68.2 498.8L69.0 497.0L69.8 495.1L70.6 493.3L71.5 491.5L72.4 489.7L73.3 487.9L74.2 486.1L75.2 484.4L76.2 482.7L77.2 480.9L78.3 479.2L79.4 477.5L80.5 475.9L81.7 474.3L82.9 472.7L84.1 471.1L85.4 469.5L86.7 468.0L88.0 466.5L89.4 465.0L90.8 463.6L92.2 462.2L93.6 460.7L94.9 459.2L96.3 457.8L97.7 456.3L99.0 454.8L100.3 453.3L101.6 451.8L102.8 450.2L104.0 448.6L105.2 447.0L106.3 445.3L107.4 443.7L108.5 442.0L109.6 440.3L110.7 438.6L111.8 436.9L112.8 435.2L113.8 433.5L114.8 431.7L115.7 429.9L116.6 428.2L117.5 426.4L118.4 424.6L119.3 422.8L120.2 420.9L121.0 419.1L121.8 417.3L122.6 415.5L123.5 413.6L124.3 411.8L125.1 410.0L125.9 408.1L126.7 406.3L127.5 404.4L128.3 402.6L129.1 400.7L129.8 398.9L130.5 397.0L131.2 395.1L131.9 393.3L132.6 391.4L133.3 389.5L133.9 387.6L134.6 385.7L135.2 383.8L135.8 381.9L136.4 379.9L137.0 378.0L137.5 376.1L138.1 374.2L138.6 372.2L139.2 370.3L139.7 368.4L140.3 366.4L140.8 364.5L141.4 362.6L141.9 360.6L142.3 358.7L142.7 356.7L143.1 354.8L143.5 352.8L143.8 350.8L144.2 348.8L144.6 346.9L144.9 344.9L145.3 342.9L145.7 340.9L146.0 339.0L146.4 337.0L146.8 335.0L147.1 333.1L147.5 331.1L147.9 329.1L148.2 327.1L148.6 325.2L149.0 323.2L149.3 321.2L149.7 319.2L150.1 317.3L150.4 315.3L150.8 313.3L151.2 311.4L151.5 309.4L151.7 308.4" fill="none" stroke="#00c800" stroke-width="1.7" stroke-dasharray="10.00 4.00" stroke-linejoin="round"/>
<path d="M38.5 394.0L38.5 396.0L38.5 398.0L38.5 400.0L38.5 402.0L38.5 404.0L38.5 406.0L38.5 408.0L38.5 410.0L38.5 412.1L38.5 414.1L38.5 416.1L38.5 418.1L38.5 420.1L38.5 422.1L38.5 424.1L38.5 426.1L38.5 428.1L38.5 430.1L38.5 432.1L38.5 434.1L38.5 436.1L38.5 438.1L38.5 440.1L38.5 442.1L38.5 444.1L38.5 446.1L38.5 448.2L38.5 450.2L38.5 452.2L38.5 454.2L38.5 456.2L38.5 458.2L38.5 460.2L38.5 462.2L38.5 464.2L38.6 466.2L38.7 468.2L38.7 470.2L38.8 472.2L38.9 474.2L39.0 476.2L39.1 478.2L39.2 480.2L39.4 482.2L39.5 484.2L39.6 486.2L39.8 488.2L39.9 490.2L40.1 492.2L40.2 494.2L40.4 496.2L40.5 498.2L40.8 500.2L41.1 502.2L41.5 504.2L41.9 506.1L42.3 508.1L42.7 510.0L43.2 512.0L43.6 514.0L44.1 515.9L44.7 517.8L45.3 519.7L45.9 521.6L46.5 523.5L47.2 525.4L48.0 527.2L48.9 529.0L50.0 530.7L51.2 532.2L52.5 533.7L54.0 534.9L55.7 535.8L57.5 536.6L59.4 537.1L61.3 537.5L63.3 537.8L65.3 538.0L67.3 538.2L69.3 538.4L71.3 538.7L73.2 538.9L75.2 539.1L77.2 539.4L79.2 539.6L81.2 539.9L83.2 540.1L85.2 540.5L87.1 540.8L89.1 541.3L91.0 541.8L92.9 542.4L94.8 543.1L96.7 543.8L98.5 544.6L100.3 545.5L102.0 546.5L103.7 547.6L105.3 548.7L107.0 549.9L108.6 551.1L110.2 552.3L111.7 553.6L113.2 554.9L114.7 556.2L116.2 557.6L117.7 558.9L119.2 560.3L120.6 561.7L122.0 563.1L123.5 564.5L124.9 565.9L126.3 567.3L127.7 568.7L129.1 570.1L130.6 571.6L132.0 573.0L133.4 574.4L134.8 575.8L136.2 577.2L137.7 578.7L139.1 580.1L140.5 581.5L141.9 582.9L143.3 584.3L144.7 585.7L146.2 587.2L147.6 588.6L149.0 590.0" fill="none" stroke="#6e6e6e" stroke-width="1.4" stroke-dasharray="7.60 2.00 1.00 2.00" stroke-linejoin="round"/>
<path d="M38.5 586.0L38.9 584.0L39.3 582.1L39.8 580.1L40.2 578.2L40.7 576.2L41.2 574.3L41.7 572.3L42.2 570.4L42.7 568.5L43.2 566.5L43.8 564.6L44.4 562.7L45.0 560.8L45.6 558.8L46.1 556.9L46.7 555.0L47.2 553.1L47.8 551.1L48.3 549.2L48.8 547.3L49.4 545.4L50.0 543.4L50.6 541.5L51.3 539.6L52.0 537.8L52.7 535.9L53.5 534.0L54.2 532.2L55.0 530.3L55.7 528.5L56.5 526.6L57.3 524.8L58.1 522.9L58.8 521.1L59.6 519.2L60.4 517.4L61.1 515.5L61.9 513.7L62.6 511.8L63.4 509.9L64.1 508.1L64.8 506.2L65.6 504.3L66.3 502.4L67.0 500.6L67.7 498.7L68.5 496.9L69.3 495.0L70.1 493.2L70.9 491.3L71.7 489.5L72.6 487.7L73.5 485.9L74.5 484.2L75.4 482.4L76.4 480.7L77.4 478.9L78.4 477.2L79.5 475.5L80.5 473.8L81.6 472.1L82.7 470.4L83.9 468.8L85.0 467.1L86.2 465.5L87.4 463.9L88.6 462.3L89.8 460.7L91.0 459.1L92.3 457.5L93.5 455.9L94.7 454.4L95.9 452.8L97.1 451.2L98.3 449.6L99.5 447.9L100.5 446.2L101.5 444.5L102.3 442.7L103.2 440.9L104.1 439.1L105.0 437.3L105.9 435.5L106.7 433.7L107.6 431.9L108.5 430.1L109.4 428.3L110.3 426.5L111.1 424.7L112.0 422.8L112.8 421.0L113.6 419.2L114.4 417.3L115.2 415.5L116.0 413.7L116.9 411.8L117.7 410.0L118.5 408.2L119.3 406.3L120.1 404.5L120.8 402.6L121.6 400.8L122.3 398.9L123.0 397.0L123.7 395.2L124.4 393.3L125.1 391.4L125.8 389.5L126.4 387.6L126.9 385.7L127.5 383.7L128.1 381.8L128.6 379.9L129.2 378.0L129.7 376.0L130.3 374.1L130.8 372.2L131.4 370.3L131.9 368.3L132.5 366.4L133.0 364.5L133.6 362.5L134.1 360.6L134.5 358.6L134.9 356.7L135.2 354.7L135.6 352.7L135.9 350.8L136.3 348.8L136.6 346.8L137.0 344.8L137.3 342.9L137.7 340.9L138.0 338.9L138.4 336.9L138.7 335.0L139.1 333.0L139.4 331.0L139.8 329.0L140.2 327.1L140.6 325.1L141.0 323.1L141.4 321.2L141.8 319.2L142.2 317.2L142.6 315.3L143.0 313.3L143.4 311.3L143.8 309.4L144.0 308.4" fill="none" stroke="#6e6e6e" stroke-width="1.4" stroke-dasharray="7.60 2.00 1.00 2.00" stroke-linejoin="round"/>
<path d="M38.5 395.0L38.5 397.0L38.5 399.0L38.5 401.0L38.5 403.0L38.5 405.0L38.5 407.0L38.5 409.0L38.5 411.0L38.5 413.0L38.5 415.0L38.5 417.0L38.5 419.0L38.5 421.1L38.5 423.1L38.5 425.1L38.5 427.1L38.5 429.1L38.5 431.1L38.5 433.1L38.5 435.1L38.5 437.1L38.5 439.1L38.5 441.1L38.5 443.1L38.5 445.1L38.5 447.1L38.5 449.1L38.5 451.1L38.5 453.1L38.5 455.1L38.5 457.1L38.5 459.1L38.5 461.1L38.5 463.1L38.5 465.1L38.5 467.1L38.5 469.1L38.6 471.2L38.6 473.2L38.7 475.2L38.8 477.2L38.9 479.2L38.9 481.2L39.0 483.2L39.1 485.2L39.2 487.2L39.3 489.2L39.4 491.2L39.5 493.2L39.7 495.2L39.8 497.2L39.9 499.2L40.0 501.2L40.2 503.2L40.4 505.2L40.7 507.1L41.0 509.1L41.3 511.1L41.7 513.1L42.1 515.0L42.5 517.0L42.9 518.9L43.4 520.9L44.0 522.8L44.7 524.7L45.3 526.6L46.1 528.4L47.0 530.2L48.0 531.9L49.1 533.5L50.4 534.9L51.8 536.2L53.5 537.1L55.3 537.8L57.2 538.2L59.2 538.6L61.2 538.8L63.2 538.9L65.2 539.1L67.2 539.2L69.2 539.4L71.2 539.6L73.1 539.9L75.1 540.2L77.1 540.5L79.1 540.8L81.1 541.1L83.0 541.4L85.0 541.8L86.9 542.3L88.8 542.9L90.7 543.6L92.5 544.4L94.3 545.3L96.1 546.1L97.9 547.1L99.6 548.1L101.2 549.3L102.7 550.5L104.2 551.8L105.7 553.2L107.2 554.5L108.7 555.9L110.2 557.2L111.6 558.6L113.0 560.0L114.5 561.5L115.9 562.9L117.3 564.3L118.7 565.7L120.1 567.2L121.4 568.6L122.8 570.1L124.2 571.6L125.5 573.1L126.9 574.5L128.2 576.0L129.5 577.5L130.9 579.0L132.2 580.5L133.6 582.0L134.9 583.4L136.3 584.9L137.6 586.4L138.9 587.9L140.2 589.4L141.5 591.0" fill="none" stroke="#00ffff" stroke-width="1.7" stroke-dasharray="8.01 2.16 1.17 2.16 1.17 2.16" stroke-linejoin="round"/>
<path d="M38.5 586.0L38.9 584.0L39.3 582.1L39.7 580.1L40.2 578.2L40.6 576.2L41.1 574.3L41.6 572.3L42.1 570.4L42.6 568.4L43.1 566.5L43.7 564.6L44.3 562.7L44.8 560.7L45.4 558.8L46.0 556.9L46.6 555.0L47.1 553.0L47.6 551.1L48.1 549.2L48.6 547.2L49.1 545.3L49.7 543.4L50.3 541.5L51.0 539.6L51.6 537.7L52.4 535.8L53.1 534.0L53.8 532.1L54.6 530.2L55.3 528.4L56.0 526.5L56.8 524.6L57.5 522.8L58.2 520.9L59.0 519.0L59.7 517.2L60.5 515.3L61.2 513.5L62.0 511.6L62.7 509.7L63.5 507.9L64.2 506.0L65.0 504.2L65.7 502.3L66.5 500.4L67.2 498.6L68.0 496.7L68.8 494.9L69.6 493.1L70.4 491.2L71.3 489.4L72.1 487.6L73.0 485.8L73.9 484.0L74.8 482.3L75.8 480.5L76.7 478.7L77.7 477.0L78.7 475.2L79.7 473.5L80.7 471.8L81.8 470.1L82.8 468.4L83.9 466.7L85.1 465.0L86.2 463.4L87.3 461.7L88.4 460.0L89.5 458.4L90.6 456.7L91.8 455.1L92.9 453.4L94.1 451.8L95.2 450.1L96.4 448.5L97.5 446.8L98.5 445.1L99.5 443.4L100.4 441.6L101.1 439.7L101.8 437.9L102.5 436.0L103.2 434.1L103.9 432.2L104.6 430.3L105.3 428.5L106.0 426.6L106.8 424.7L107.5 422.9L108.3 421.1L109.1 419.2L109.9 417.4L110.7 415.5L111.5 413.7L112.2 411.8L112.9 409.9L113.7 408.1L114.4 406.2L115.1 404.3L115.9 402.5L116.6 400.6L117.3 398.7L118.0 396.9L118.8 395.0L119.5 393.1L120.1 391.2L120.7 389.3L121.2 387.4L121.7 385.5L122.1 383.5L122.6 381.6L123.1 379.6L123.7 377.7L124.3 375.8L124.9 373.9L125.5 372.0L126.1 370.1L126.7 368.1L127.3 366.2L127.9 364.3L128.5 362.4L129.0 360.5L129.5 358.5L129.9 356.6L130.2 354.6L130.5 352.6L130.9 350.6L131.2 348.7L131.5 346.7L131.8 344.7L132.2 342.7L132.5 340.8L132.8 338.8L133.1 336.8L133.5 334.8L133.8 332.8L134.2 330.9L134.6 328.9L135.1 327.0L135.5 325.0L136.0 323.1L136.4 321.1L136.8 319.1L137.3 317.2L137.7 315.2L138.2 313.3L138.6 311.3L139.1 309.4L139.3 308.4" fill="none" stroke="#00ffff" stroke-width="1.7" stroke-dasharray="8.01 2.16 1.17 2.16 1.17 2.16" stroke-linejoin="round"/>
<path d="M38.5 396.0L38.5 398.0L38.5 400.0L38.5 402.0L38.5 404.0L38.5 406.0L38.5 408.0L38.5 410.0L38.5 412.0L38.5 414.0L38.5 416.0L38.5 418.0L38.5 420.0L38.5 422.0L38.5 424.0L38.5 426.0L38.5 428.0L38.5 430.0L38.5 432.0L38.5 434.0L38.5 436.0L38.5 438.1L38.5 440.1L38.5 442.1L38.5 444.1L38.5 446.1L38.5 448.1L38.5 450.1L38.5 452.1L38.5 454.1L38.5 456.1L38.5 458.1L38.5 460.1L38.5 462.1L38.5 464.1L38.5 466.1L38.5 468.1L38.5 470.1L38.5 472.1L38.5 474.1L38.6 476.1L38.6 478.1L38.7 480.1L38.7 482.1L38.8 484.1L38.9 486.1L38.9 488.1L39.0 490.1L39.1 492.1L39.2 494.1L39.3 496.1L39.4 498.1L39.5 500.1L39.6 502.1L39.7 504.1L39.8 506.1L40.0 508.1L40.2 510.1L40.5 512.1L40.8 514.0L41.2 516.0L41.5 518.0L41.9 519.9L42.4 521.9L42.9 523.8L43.5 525.7L44.1 527.6L44.8 529.5L45.6 531.3L46.6 533.0L47.8 534.5L49.1 535.9L50.6 537.1L52.3 538.0L54.1 538.7L56.1 539.2L58.0 539.5L60.0 539.7L62.0 539.9L64.0 540.0L66.0 540.2L68.0 540.3L70.0 540.5L72.0 540.8L73.9 541.1L75.9 541.4L77.9 541.8L79.8 542.2L81.8 542.5L83.8 542.9L85.7 543.4L87.6 544.1L89.4 544.8L91.2 545.6L93.0 546.5L94.8 547.4L96.6 548.3L98.3 549.3L100.0 550.4L101.6 551.6L103.1 552.8L104.6 554.2L106.1 555.5L107.6 556.8L109.0 558.2L110.5 559.6L111.8 561.1L113.2 562.5L114.6 564.0L115.9 565.5L117.3 567.0L118.6 568.5L119.9 569.9L121.3 571.4L122.6 572.9L124.0 574.4L125.3 575.9L126.7 577.3L128.0 578.8L129.4 580.3L130.7 581.8L132.1 583.2L133.5 584.7L134.9 586.1L136.2 587.6L137.6 589.0L139.0 590.5" fill="none" stroke="#ff0000" stroke-width="1.7" stroke-dasharray="8.46 1.80 8.46 4.86" stroke-linejoin="round"/>
<path d="M38.5 586.0L38.9 584.0L39.3 582.1L39.7 580.1L40.2 578.2L40.6 576.2L41.1 574.3L41.6 572.3L42.1 570.4L42.6 568.4L43.1 566.5L43.7 564.6L44.2 562.7L44.8 560.7L45.3 558.8L45.9 556.9L46.4 555.0L47.0 553.0L47.5 551.1L47.9 549.1L48.5 547.2L49.0 545.3L49.5 543.3L50.1 541.4L50.7 539.5L51.4 537.6L52.1 535.7L52.8 533.9L53.5 532.0L54.2 530.1L54.9 528.2L55.7 526.4L56.4 524.5L57.1 522.7L57.9 520.8L58.6 518.9L59.4 517.1L60.1 515.2L60.9 513.4L61.6 511.5L62.3 509.6L63.1 507.8L63.8 505.9L64.6 504.0L65.3 502.2L66.0 500.3L66.8 498.5L67.5 496.6L68.3 494.7L69.1 492.9L69.9 491.1L70.7 489.2L71.5 487.4L72.4 485.6L73.3 483.8L74.2 482.0L75.1 480.3L76.1 478.5L77.0 476.7L78.0 475.0L79.0 473.3L80.1 471.5L81.1 469.8L82.1 468.1L83.2 466.4L84.2 464.7L85.3 463.0L86.4 461.3L87.4 459.6L88.5 457.9L89.6 456.2L90.6 454.5L91.7 452.8L92.8 451.1L93.8 449.4L94.9 447.7L95.9 446.0L97.0 444.3L98.0 442.6L99.0 440.8L99.8 439.1L100.6 437.2L101.2 435.3L101.8 433.4L102.3 431.5L102.9 429.6L103.5 427.6L104.2 425.8L104.9 423.9L105.6 422.0L106.3 420.1L107.0 418.3L107.8 416.4L108.5 414.5L109.2 412.7L110.0 410.8L110.7 408.9L111.4 407.1L112.1 405.2L112.8 403.3L113.6 401.5L114.3 399.6L115.0 397.7L115.7 395.8L116.4 394.0L117.1 392.1L117.8 390.2L118.4 388.3L119.0 386.4L119.6 384.5L120.2 382.6L120.8 380.6L121.4 378.7L122.0 376.8L122.6 374.9L123.2 373.0L123.7 371.1L124.3 369.1L124.9 367.2L125.5 365.3L126.1 363.4L126.6 361.5L127.0 359.5L127.4 357.6L127.8 355.6L128.1 353.6L128.4 351.6L128.7 349.6L129.0 347.7L129.3 345.7L129.6 343.7L129.9 341.7L130.2 339.7L130.5 337.7L130.8 335.8L131.1 333.8L131.5 331.8L131.9 329.9L132.3 327.9L132.7 326.0L133.2 324.0L133.7 322.1L134.1 320.1L134.6 318.2L135.1 316.2L135.5 314.3L136.0 312.3L136.4 310.4L136.9 308.4" fill="none" stroke="#ff0000" stroke-width="1.7" stroke-dasharray="8.46 1.80 8.46 4.86" stroke-linejoin="round"/>
<path d="M38.5 397.0L38.5 399.0L38.5 401.0L38.5 403.0L38.5 405.0L38.5 407.0L38.5 409.0L38.5 411.0L38.5 413.0L38.5 415.0L38.5 417.1L38.5 419.1L38.5 421.1L38.5 423.1L38.5 425.1L38.5 427.1L38.5 429.1L38.5 431.1L38.5 433.1L38.5 435.1L38.5 437.1L38.5 439.1L38.5 441.1L38.5 443.1L38.5 445.1L38.5 447.1L38.5 449.1L38.5 451.1L38.5 453.1L38.5 455.2L38.5 457.2L38.5 459.2L38.5 461.2L38.5 463.2L38.5 465.2L38.5 467.2L38.5 469.2L38.5 471.2L38.5 473.2L38.5 475.2L38.5 477.2L38.6 479.2L38.6 481.2L38.7 483.2L38.7 485.2L38.8 487.2L38.9 489.2L38.9 491.2L39.0 493.2L39.1 495.2L39.2 497.3L39.3 499.3L39.3 501.3L39.4 503.3L39.5 505.3L39.6 507.3L39.7 509.3L39.9 511.3L40.1 513.3L40.4 515.2L40.7 517.2L41.0 519.2L41.4 521.2L41.8 523.1L42.2 525.1L42.8 527.0L43.4 528.9L44.1 530.7L45.0 532.6L45.9 534.3L47.1 535.8L48.5 537.2L50.0 538.3L51.7 539.2L53.6 539.8L55.5 540.3L57.5 540.6L59.5 540.8L61.4 540.9L63.4 541.0L65.5 541.2L67.4 541.3L69.4 541.5L71.4 541.7L73.4 542.1L75.4 542.5L77.3 542.9L79.3 543.3L81.2 543.7L83.2 544.2L85.1 544.7L87.0 545.3L88.9 546.0L90.7 546.9L92.5 547.7L94.3 548.6L96.1 549.6L97.8 550.5L99.5 551.6L101.0 552.8L102.5 554.2L103.9 555.6L105.3 557.0L106.7 558.5L108.0 559.9L109.4 561.4L110.8 562.9L112.1 564.3L113.5 565.8L114.8 567.3L116.2 568.8L117.5 570.3L118.9 571.8L120.2 573.2L121.6 574.7L123.0 576.1L124.4 577.6L125.8 579.1L127.1 580.5L128.5 581.9L129.9 583.4L131.3 584.8L132.7 586.2L134.2 587.7L135.6 589.1L137.0 590.5" fill="none" stroke="#ff00ff" stroke-width="1.7" stroke-dasharray="6.21 1.80 6.21 1.80 6.21 4.86" stroke-linejoin="round"/>
<path d="M38.5 586.0L38.9 584.0L39.3 582.1L39.7 580.1L40.1 578.2L40.6 576.2L41.1 574.3L41.5 572.3L42.0 570.4L42.5 568.4L43.0 566.5L43.6 564.6L44.1 562.6L44.7 560.7L45.2 558.8L45.8 556.8L46.3 554.9L46.8 553.0L47.3 551.0L47.7 549.1L48.2 547.1L48.7 545.2L49.3 543.3L49.8 541.3L50.4 539.4L51.1 537.5L51.7 535.6L52.4 533.8L53.1 531.9L53.8 530.0L54.6 528.1L55.3 526.3L56.0 524.4L56.8 522.6L57.5 520.7L58.3 518.8L59.0 517.0L59.8 515.1L60.5 513.2L61.2 511.4L62.0 509.5L62.7 507.7L63.4 505.8L64.2 503.9L64.9 502.1L65.6 500.2L66.4 498.3L67.1 496.5L67.8 494.6L68.5 492.7L69.2 490.8L69.9 488.9L70.6 487.1L71.3 485.2L72.1 483.4L72.9 481.5L73.7 479.7L74.6 477.9L75.4 476.1L76.3 474.3L77.2 472.5L78.2 470.7L79.2 469.0L80.2 467.3L81.3 465.6L82.3 463.9L83.3 462.1L84.4 460.4L85.4 458.7L86.4 457.0L87.4 455.3L88.5 453.5L89.5 451.8L90.6 450.1L91.6 448.4L92.7 446.7L93.7 445.0L94.8 443.3L95.8 441.6L96.8 439.9L97.8 438.1L98.7 436.3L99.5 434.5L100.3 432.7L101.0 430.8L101.8 428.9L102.5 427.1L103.3 425.2L104.0 423.4L104.7 421.5L105.4 419.6L106.1 417.7L106.8 415.8L107.4 414.0L108.1 412.1L108.8 410.2L109.4 408.3L110.1 406.4L110.7 404.5L111.4 402.6L112.0 400.7L112.7 398.8L113.3 396.9L114.0 395.0L114.7 393.2L115.5 391.3L116.2 389.4L116.9 387.5L117.6 385.7L118.2 383.8L118.9 381.9L119.5 380.0L120.1 378.1L120.6 376.1L121.2 374.2L121.7 372.3L122.2 370.3L122.7 368.4L123.3 366.5L123.8 364.5L124.3 362.6L124.8 360.6L125.2 358.7L125.5 356.7L125.9 354.7L126.2 352.8L126.5 350.8L126.9 348.8L127.2 346.8L127.5 344.8L127.8 342.9L128.2 340.9L128.5 338.9L128.8 336.9L129.2 335.0L129.5 333.0L129.8 331.0L130.2 329.0L130.6 327.1L131.0 325.1L131.4 323.1L131.8 321.2L132.2 319.2L132.5 317.2L132.9 315.3L133.3 313.3L133.7 311.3L134.1 309.4L134.3 308.4" fill="none" stroke="#ff00ff" stroke-width="1.7" stroke-dasharray="6.21 1.80 6.21 1.80 6.21 4.86" stroke-linejoin="round"/>
<path d="M38.5 400.0L38.5 402.0L38.5 404.0L38.5 406.0L38.5 408.0L38.5 410.0L38.5 412.0L38.5 414.0L38.5 416.0L38.5 418.0L38.5 420.0L38.5 422.0L38.5 424.0L38.5 426.0L38.5 428.1L38.5 430.1L38.5 432.1L38.5 434.1L38.5 436.1L38.5 438.1L38.5 440.1L38.5 442.1L38.5 444.1L38.5 446.1L38.5 448.1L38.5 450.1L38.5 452.1L38.5 454.1L38.5 456.1L38.5 458.1L38.5 460.1L38.5 462.1L38.5 464.1L38.5 466.1L38.5 468.1L38.5 470.1L38.5 472.1L38.5 474.1L38.5 476.1L38.5 478.1L38.5 480.1L38.6 482.1L38.6 484.2L38.7 486.2L38.7 488.2L38.8 490.2L38.8 492.2L38.9 494.2L38.9 496.2L39.0 498.2L39.1 500.2L39.2 502.2L39.2 504.2L39.3 506.2L39.4 508.2L39.4 510.2L39.5 512.2L39.7 514.2L39.9 516.2L40.1 518.2L40.4 520.1L40.7 522.1L41.1 524.1L41.5 526.0L42.0 528.0L42.6 529.9L43.3 531.7L44.2 533.5L45.2 535.2L46.3 536.8L47.7 538.1L49.3 539.3L51.0 540.2L52.8 540.8L54.7 541.3L56.7 541.6L58.7 541.7L60.7 541.8L62.7 542.0L64.7 542.1L66.7 542.2L68.7 542.4L70.7 542.7L72.6 543.0L74.6 543.4L76.5 543.9L78.5 544.4L80.4 544.9L82.4 545.3L84.3 545.9L86.2 546.4L88.1 547.1L89.9 547.8L91.8 548.6L93.6 549.4L95.4 550.3L97.2 551.2L98.9 552.2L100.4 553.4L101.9 554.8L103.2 556.2L104.5 557.7L105.9 559.2L107.2 560.8L108.5 562.3L109.8 563.8L111.1 565.3L112.4 566.9L113.7 568.4L114.9 569.9L116.2 571.5L117.5 573.0L118.8 574.5L120.1 576.0L121.5 577.5L122.9 579.0L124.2 580.4L125.6 581.9L127.0 583.3L128.4 584.8L129.8 586.2L131.2 587.7L132.6 589.1L134.0 590.5" fill="none" stroke="#0000c8" stroke-width="1.7" stroke-dasharray="6.21 1.80 10.80 4.86" stroke-linejoin="round"/>
<path d="M38.5 586.0L38.9 584.0L39.3 582.1L39.7 580.1L40.1 578.2L40.6 576.2L41.1 574.3L41.5 572.3L42.0 570.4L42.5 568.4L43.0 566.5L43.6 564.6L44.1 562.6L44.7 560.7L45.2 558.8L45.8 556.9L46.3 554.9L46.8 553.0L47.2 551.0L47.7 549.1L48.1 547.1L48.6 545.2L49.0 543.2L49.5 541.3L50.0 539.4L50.6 537.4L51.1 535.5L51.6 533.6L52.2 531.6L52.7 529.7L53.2 527.8L53.8 525.9L54.4 523.9L55.0 522.0L55.7 520.1L56.3 518.3L57.0 516.4L57.7 514.5L58.4 512.6L59.1 510.7L59.8 508.8L60.5 507.0L61.2 505.1L62.1 503.3L63.1 501.6L64.1 499.9L65.1 498.2L66.1 496.5L67.0 494.7L67.8 492.9L68.6 491.0L69.3 489.1L70.0 487.2L70.7 485.4L71.4 483.5L72.2 481.7L73.0 479.9L73.9 478.0L74.7 476.2L75.6 474.4L76.5 472.7L77.5 470.9L78.5 469.2L79.5 467.5L80.6 465.7L81.6 464.0L82.6 462.3L83.7 460.6L84.7 458.9L85.7 457.1L86.7 455.4L87.8 453.7L88.8 452.0L89.8 450.3L90.8 448.5L91.9 446.8L92.9 445.1L93.9 443.4L94.9 441.7L95.9 439.9L96.9 438.2L97.7 436.4L98.5 434.5L99.2 432.7L99.8 430.8L100.5 428.9L101.2 427.0L102.0 425.2L102.7 423.3L103.4 421.4L104.1 419.5L104.7 417.6L105.4 415.7L106.1 413.9L106.7 412.0L107.4 410.1L108.0 408.2L108.6 406.3L109.3 404.4L109.9 402.5L110.5 400.6L111.1 398.7L111.8 396.8L112.5 394.9L113.2 393.0L113.9 391.1L114.6 389.2L115.2 387.4L115.9 385.5L116.6 383.6L117.2 381.7L117.8 379.8L118.4 377.9L118.9 375.9L119.4 374.0L119.9 372.1L120.4 370.1L120.9 368.2L121.4 366.2L121.8 364.3L122.3 362.3L122.7 360.4L123.1 358.4L123.4 356.4L123.7 354.5L124.0 352.5L124.3 350.5L124.6 348.5L124.9 346.5L125.2 344.6L125.5 342.6L125.8 340.6L126.1 338.6L126.4 336.6L126.7 334.6L127.0 332.7L127.4 330.7L127.9 328.8L128.3 326.8L128.8 324.9L129.3 322.9L129.8 321.0L130.3 319.1L130.8 317.1L131.3 315.2L131.8 313.2L132.3 311.3L132.8 309.4L133.1 308.4" fill="none" stroke="#0000c8" stroke-width="1.7" stroke-dasharray="6.21 1.80 10.80 4.86" stroke-linejoin="round"/>
<g font-family="Liberation Sans, Arial, sans-serif" font-size="12.9" fill="#000">
<text x="31.9" y="297.9" text-anchor="end">0.0</text>
<text x="31.9" y="595.6" text-anchor="end">0.0</text>
<text x="31.9" y="250.8" text-anchor="end">0.5</text>
<text x="31.9" y="548.4" text-anchor="end">0.5</text>
<text x="31.9" y="203.6" text-anchor="end">1.0</text>
<text x="31.9" y="501.3" text-anchor="end">1.0</text>
<text x="31.9" y="156.5" text-anchor="end">1.5</text>
<text x="31.9" y="454.1" text-anchor="end">1.5</text>
<text x="31.9" y="109.4" text-anchor="end">2.0</text>
<text x="31.9" y="406.9" text-anchor="end">2.0</text>
<text x="31.9" y="62.2" text-anchor="end">2.5</text>
<text x="31.9" y="359.8" text-anchor="end">2.5</text>
<text x="31.9" y="15.1" text-anchor="end">3.0</text>
<text x="31.9" y="312.6" text-anchor="end">3.0</text>
<text x="38.4" y="614.1" text-anchor="middle">0</text>
<text x="87.9" y="614.1" text-anchor="middle">200</text>
<text x="137.5" y="614.1" text-anchor="middle">400</text>
<text x="187.0" y="614.1" text-anchor="middle">600</text>
<text x="236.5" y="614.1" text-anchor="middle">800</text>
<text x="286.1" y="614.1" text-anchor="middle">1000</text>
<text x="335.6" y="614.1" text-anchor="middle">1200</text>
</g>
<text x="53.1" y="20.4" font-family="Liberation Sans, Arial, sans-serif" font-size="12.9">(a)</text>
<text x="53.1" y="317.7" font-family="Liberation Sans, Arial, sans-serif" font-size="12.9">(b)</text>
<text x="187.6" y="632" text-anchor="middle" font-family="Liberation Sans, Arial, sans-serif" font-size="12.9">specific capacity (mAh g<tspan font-size="9.5" dy="-6.3">-1</tspan><tspan dy="6.3">)</tspan></text>
<text transform="translate(11.3,151) rotate(-90)" text-anchor="middle" font-family="Liberation Sans, Arial, sans-serif" font-size="12.9">voltage (V)</text>
<text transform="translate(11.3,447.5) rotate(-90)" text-anchor="middle" font-family="Liberation Sans, Arial, sans-serif" font-size="12.9">voltage (V)</text>
<path d="M224,106.9 L260,106.9" fill="none" stroke="#000000" stroke-width="1.7" stroke-linejoin="round"/>
<text x="282.6" y="111.6" font-family="Liberation Sans, Arial, sans-serif" font-size="12.9">1st</text>
<path d="M224.9,121.1 L258,121.1" fill="none" stroke="#1414ff" stroke-width="3.6" stroke-dasharray="0 5.43" stroke-linecap="round" stroke-linejoin="round"/>
<text x="282.6" y="125.7" font-family="Liberation Sans, Arial, sans-serif" font-size="12.9">2nd</text>
<path d="M224,139.3 L257.2,139.3" fill="none" stroke="#8a00ff" stroke-width="1.7" stroke-dasharray="6.90 2.00" stroke-linejoin="round"/>
<text x="282.6" y="143.6" font-family="Liberation Sans, Arial, sans-serif" font-size="12.9">5th</text>
<path d="M224,153.9 L258.1,153.9" fill="none" stroke="#147d64" stroke-width="1.7" stroke-dasharray="9.40 2.90" stroke-linejoin="round"/>
<text x="282.6" y="157.8" font-family="Liberation Sans, Arial, sans-serif" font-size="12.9">10th</text>
<path d="M223,169.0 L259,169.0" fill="none" stroke="#00c800" stroke-width="1.7" stroke-dasharray="11.90 3.90" stroke-linejoin="round"/>
<text x="282.6" y="173.8" font-family="Liberation Sans, Arial, sans-serif" font-size="12.9">20th</text>
<path d="M224,186.3 L260,186.3" fill="none" stroke="#6e6e6e" stroke-width="1.4" stroke-dasharray="8.90 2.00 1.00 2.40" stroke-linejoin="round"/>
<text x="282.6" y="190.7" font-family="Liberation Sans, Arial, sans-serif" font-size="12.9">30th</text>
<path d="M224,200.1 L257.6,200.1" fill="none" stroke="#00ffff" stroke-width="1.7" stroke-dasharray="8.90 2.40 1.30 2.40 1.30 2.40" stroke-linejoin="round"/>
<text x="282.6" y="204.2" font-family="Liberation Sans, Arial, sans-serif" font-size="12.9">50th</text>
<path d="M224,213.9 L260,213.9" fill="none" stroke="#ff0000" stroke-width="1.7" stroke-dasharray="9.40 2.00 9.40 5.40" stroke-linejoin="round"/>
<text x="282.6" y="217.6" font-family="Liberation Sans, Arial, sans-serif" font-size="12.9">70th</text>
<path d="M224,229.9 L260,229.9" fill="none" stroke="#ff00ff" stroke-width="1.7" stroke-dasharray="6.90 2.00 6.90 2.00 6.90 5.40" stroke-linejoin="round"/>
<text x="282.6" y="233.6" font-family="Liberation Sans, Arial, sans-serif" font-size="12.9">100th</text>
<path d="M224,245.0 L257,245.0" fill="none" stroke="#0000c8" stroke-width="1.7" stroke-dasharray="6.90 2.00 12.00 5.40" stroke-linejoin="round"/>
<text x="282.6" y="249.1" font-family="Liberation Sans, Arial, sans-serif" font-size="12.9">150th</text>
</svg>
</body></html>
